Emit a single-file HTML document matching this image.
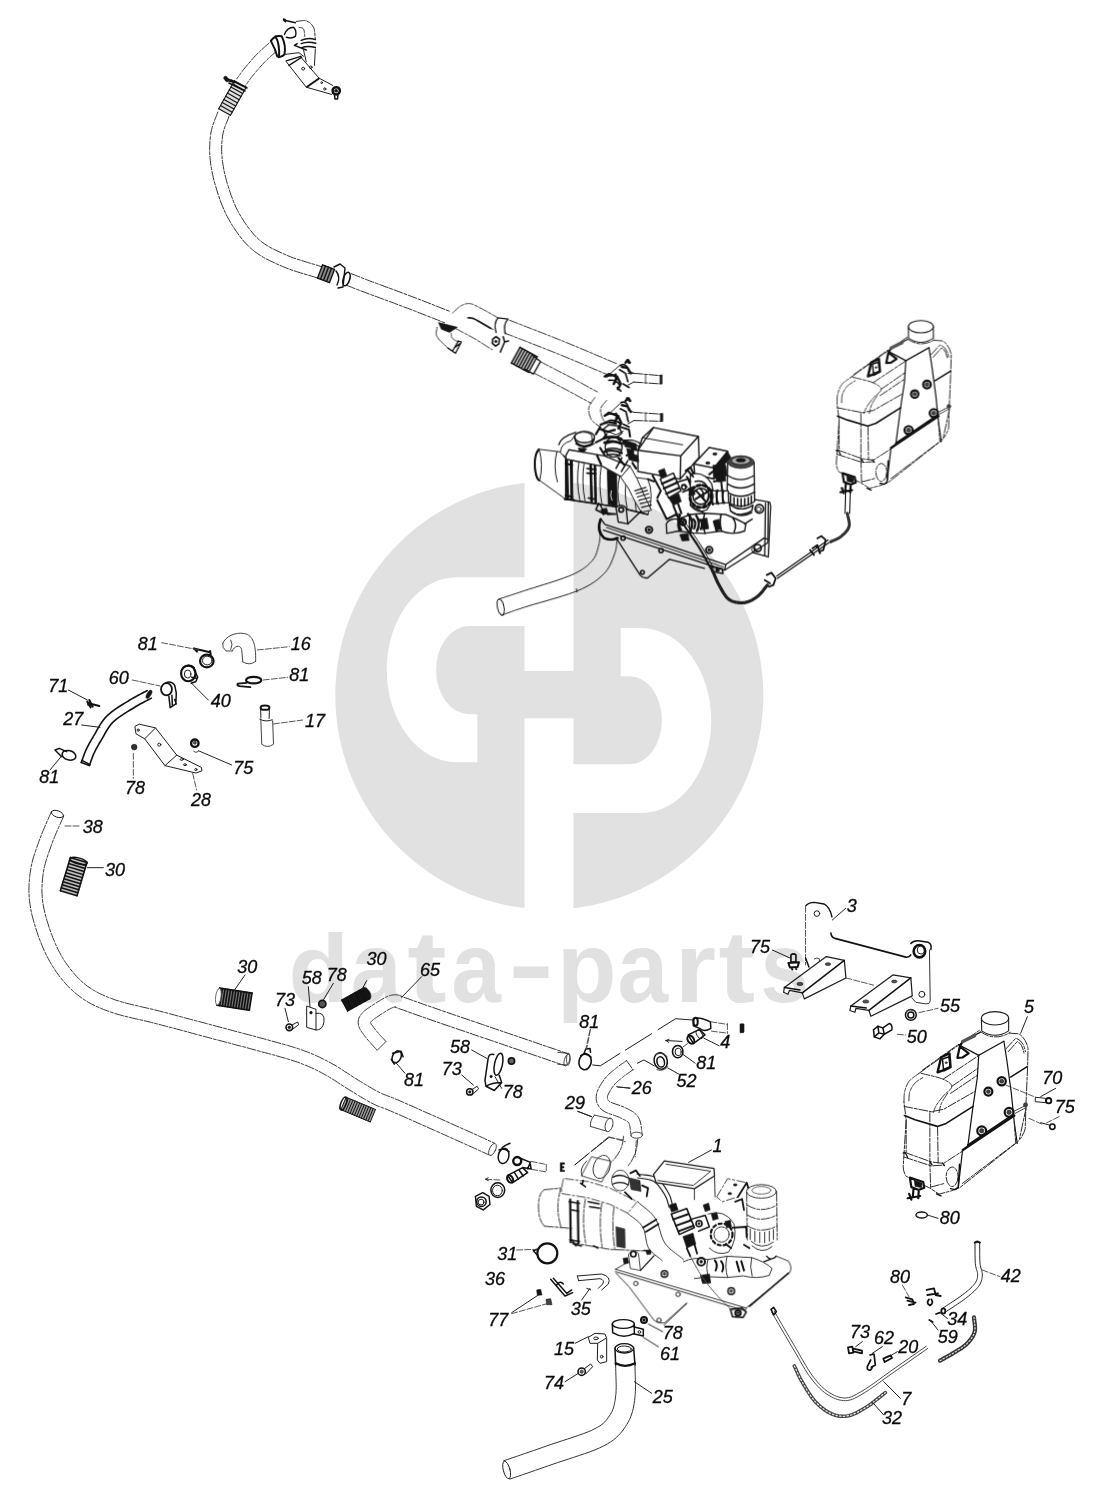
<!DOCTYPE html>
<html><head><meta charset="utf-8"><title>diagram</title>
<style>
html,body{margin:0;padding:0;background:#fff}
body{width:1101px;height:1510px;overflow:hidden}
svg{display:block}
svg *{vector-effect:non-scaling-stroke}
.l{fill:none;stroke:#1c1c1c;stroke-width:1;stroke-linecap:round;stroke-linejoin:round}
.f{fill:none;stroke:#444;stroke-width:1;stroke-linecap:round;stroke-linejoin:round}
.ff{fill:none;stroke:#3a3a3a;stroke-width:1;stroke-linecap:round;stroke-linejoin:round;stroke-dasharray:9 1.6 3 1.6}
.k{fill:none;stroke:#111;stroke-width:1.5;stroke-linecap:round;stroke-linejoin:round}
.w{fill:#fff;stroke:#1c1c1c;stroke-width:1;stroke-linejoin:round}
.wf{fill:#fff;stroke:#5a5a5a;stroke-width:.9;stroke-linejoin:round}
.b{fill:#151515;stroke:#151515;stroke-width:.6;stroke-linejoin:round}
.ld{fill:none;stroke:#222;stroke-width:1;stroke-linecap:round}
.lf{fill:none;stroke:#444;stroke-width:.9;stroke-linecap:round;stroke-dasharray:6 2}
.n{font-family:"Liberation Sans",sans-serif;font-style:italic;font-size:18px;fill:#0a0a0a;stroke:#0a0a0a;stroke-width:.3px}
.wm{font-family:"Liberation Sans",sans-serif;font-weight:bold;font-size:96px;fill:#e1e1e1}
</style></head><body>
<svg width="1101" height="1510" viewBox="0 0 1101 1510">
<rect width="1101" height="1510" fill="#fff"/>
<g id="wm">
<circle cx="549.3" cy="695.5" r="214" fill="#e1e1e1"/>
<rect x="524.5" y="470" width="49" height="201" fill="#fff"/>
<rect x="524.5" y="718.3" width="49" height="205" fill="#fff"/>
<path d="M525 577.3H456.7A70 92.5 0 0 0 456.7 762.3H477.3V714.2H468.8A32.7 44 0 0 1 468.8 626.1H525Z" fill="#fff"/>
<path d="M573 813.1H641.3A70 92.5 0 0 0 641.3 628.1H620.7V676.2H629.2A32.7 44 0 0 1 629.2 764.3H573Z" fill="#fff"/>
<text class="wm" transform="translate(288.6,1001.5) scale(1.033,1.01)">d</text><text class="wm" transform="translate(351.0,1001.5) scale(0.945,1.05)">a</text><text class="wm" transform="translate(407.2,1001.5) scale(1.230,1.06)">t</text><text class="wm" transform="translate(451.4,1001.5) scale(0.924,1.05)">a</text><text class="wm" transform="translate(508.3,996.5) scale(1.429,1.0)">-</text><text class="wm" transform="translate(556.9,1001.5) scale(1.014,1.05)">p</text><text class="wm" transform="translate(617.5,1001.5) scale(0.947,1.05)">a</text><text class="wm" transform="translate(674.7,1001.5) scale(1.103,1.05)">r</text><text class="wm" transform="translate(718.4,1001.5) scale(1.143,1.06)">t</text><text class="wm" transform="translate(760.4,1001.5) scale(0.904,1.05)">s</text>
</g>
<g id="art" style="mix-blend-mode:multiply">
<g id="parts">

<!-- view L: offset (100,620) scale 4.5875 -->
<g transform="translate(100,620) scale(.21798)">
<!-- elbow 16 -->
<path class="f" d="M563 108C575 75 620 55 662 62C702 70 716 110 714 190M607 142C615 120 642 110 650 135L655 192M655 192Q685 212 714 190M563 108Q560 128 578 142L607 142M600 92Q612 112 600 135"/>
<!-- clamp 81 top -->
<ellipse class="k" cx="490" cy="188" rx="31" ry="29" style="stroke-width:2.2"/><ellipse class="l" cx="492" cy="186" rx="22" ry="20"/>
<path class="k" style="stroke-width:2" d="M430 131L505 148M432 131L445 145M505 142L508 160"/>
<!-- clamp 40 -->
<ellipse class="k" cx="405" cy="245" rx="33" ry="36" style="stroke-width:2.2"/><ellipse class="l" cx="402" cy="248" rx="15" ry="18"/>
<path class="k" d="M385 215Q410 200 432 218M432 230L448 262L440 282L418 290M420 262L445 268"/>
<!-- flat ring 81 right -->
<ellipse class="k" cx="705" cy="276" rx="35" ry="15" style="stroke-width:2.2"/><path class="k" d="M672 288L632 292Q625 300 640 303L690 308" style="stroke-width:1.8"/>
<!-- 60 clamp -->
<ellipse class="k" cx="305" cy="318" rx="25" ry="28" style="stroke-width:1.8"/>
<path class="k" d="M300 290Q325 275 343 300L350 335L348 385L322 402L316 350M330 345L332 395M343 365L350 385" />
<!-- bracket 28 -->
<path class="w" d="M160 488L180 478L255 495L352 620L465 676L468 692L440 702L298 668L205 545L165 522Z"/>
<path class="l" d="M255 495L205 545M352 620L298 668"/>
<circle class="l" cx="175" cy="505" r="5"/><circle class="l" cx="272" cy="572" r="7"/><ellipse class="l" cx="375" cy="640" rx="7" ry="4"/><ellipse class="l" cx="390" cy="664" rx="7" ry="4"/><circle class="l" cx="440" cy="686" r="5"/>
<!-- 78 nut -->
<circle class="b" cx="157" cy="583" r="13" style="fill:#333"/>
<!-- 75 nut -->
<circle class="k" cx="435" cy="565" r="17" style="stroke-width:2.4"/><circle class="b" cx="435" cy="563" r="7" style="fill:#555"/><path class="f" d="M430 603Q440 612 450 604"/>
<!-- 17 tube -->
<ellipse class="k" cx="757" cy="402" rx="20" ry="10" style="stroke-width:2"/>
<path class="l" d="M737 405L738 450M777 405L776 452M733 455Q760 470 790 458"/>
<path class="f" d="M738 460L742 570Q768 590 796 570L792 462"/>
</g>

<path class="ff" d="M51.5 811.4L50.4 814.1L49.2 816.7L48.0 819.3L46.8 822.0L45.7 824.7L44.5 827.4L43.3 830.2L42.1 833.0L41.0 835.9L39.9 838.8L38.9 841.6L37.8 844.6L36.7 847.5L35.7 850.6L34.6 853.7L33.6 856.8L32.7 860.0L31.9 863.3L31.2 866.6L30.6 870.0L30.1 873.3L29.7 876.6L29.4 879.9L29.1 883.3L29.0 886.7L28.9 890.1L29.0 893.6L29.2 897.2L29.5 900.8L30.0 904.4L30.6 908.2L31.3 912.0L32.2 915.9L33.3 919.9L34.4 923.8L35.6 927.7L36.8 931.5L38.1 935.3L39.4 938.9L40.8 942.4L42.1 945.7L43.5 949.0L45.0 952.2L46.5 955.3L48.1 958.4L49.7 961.4L51.4 964.3L53.2 967.2L55.0 970.0L56.9 972.8L58.9 975.5L60.9 978.1L63.0 980.7L65.2 983.2L67.4 985.6L69.7 988.0L72.2 990.3L74.7 992.6L77.3 994.7L80.0 996.7L82.7 998.7L85.4 1000.5L88.2 1002.2L91.1 1003.8L94.1 1005.3L97.1 1006.7L100.3 1008.1L103.6 1009.5L107.2 1010.8L110.9 1012.1L114.9 1013.5L119.1 1014.7L123.5 1015.9L128.0 1017.0L132.6 1018.1L137.3 1019.2L142.0 1020.2L146.8 1021.3L151.6 1022.5L156.4 1023.7L161.3 1025.0L166.3 1026.3L171.4 1027.6L176.6 1029.0L181.8 1030.4L187.1 1031.8L192.4 1033.3L197.6 1034.7L202.9 1036.1L208.1 1037.5L213.4 1038.9L218.7 1040.3L224.1 1041.7L229.5 1043.1L234.9 1044.6L240.2 1046.0L245.4 1047.3L250.4 1048.7L255.3 1050.0L259.9 1051.3L264.3 1052.5L268.5 1053.6L272.6 1054.7L276.5 1055.8L280.3 1056.9L284.0 1057.9L287.5 1058.9L290.9 1060.0L294.1 1061.0L297.3 1062.1L300.4 1063.2L303.3 1064.4L306.0 1065.4L308.7 1066.6L311.2 1067.7L313.7 1068.8L316.2 1070.0L318.7 1071.3L321.3 1072.6L323.9 1074.0L326.6 1075.5L329.3 1077.1L332.0 1078.8L334.8 1080.5L337.6 1082.4L340.4 1084.2L343.2 1086.0L346.0 1087.8L348.7 1089.5L351.3 1091.1L353.8 1092.6L356.2 1094.1L358.5 1095.5L360.8 1096.9L363.1 1098.2L365.3 1099.5L367.5 1100.8L369.7 1102.0L371.9 1103.2L374.1 1104.3L376.1 1105.3L377.8 1106.0L379.2 1106.6L380.6 1107.1L381.9 1107.6L383.3 1108.1L385.0 1108.7L387.3 1109.6L390.2 1110.8L394.0 1112.5L398.9 1114.6L404.9 1117.2L411.6 1120.2L419.0 1123.5L426.6 1126.9L434.3 1130.3L441.7 1133.6L448.7 1136.7L455.0 1139.6L460.3 1141.9L464.7 1143.9L468.5 1145.6L471.7 1147.0L474.5 1148.3L477.0 1149.4L479.3 1150.5L481.6 1151.5L483.9 1152.6L486.3 1153.7L489.0 1154.9"/><path class="ff" d="M63.5 816.6L62.3 819.3L61.1 822.0L59.9 824.7L58.7 827.3L57.5 829.9L56.4 832.6L55.3 835.2L54.2 837.8L53.1 840.5L52.1 843.2L51.1 846.1L50.0 849.0L49.0 851.9L48.0 854.8L47.0 857.7L46.1 860.5L45.3 863.4L44.5 866.3L43.9 869.1L43.4 872.0L43.0 875.0L42.6 878.0L42.3 881.0L42.1 884.0L42.0 887.0L41.9 890.1L42.0 893.1L42.2 896.2L42.4 899.4L42.8 902.6L43.4 905.9L44.1 909.3L44.9 912.9L45.8 916.5L46.8 920.1L48.0 923.8L49.1 927.4L50.3 930.9L51.6 934.4L52.8 937.6L54.1 940.7L55.4 943.8L56.7 946.7L58.1 949.6L59.5 952.3L61.0 955.0L62.5 957.7L64.1 960.3L65.8 962.8L67.5 965.2L69.3 967.6L71.1 970.0L73.0 972.3L74.9 974.5L76.9 976.7L78.9 978.8L81.0 980.8L83.1 982.7L85.3 984.5L87.6 986.3L90.0 987.9L92.4 989.5L94.8 990.9L97.2 992.3L99.8 993.6L102.5 994.9L105.4 996.1L108.4 997.4L111.7 998.6L115.1 999.9L118.8 1001.0L122.6 1002.2L126.7 1003.3L131.1 1004.4L135.6 1005.4L140.2 1006.5L145.0 1007.6L149.8 1008.7L154.7 1009.9L159.6 1011.1L164.6 1012.4L169.6 1013.7L174.7 1015.1L179.9 1016.5L185.2 1017.9L190.4 1019.3L195.7 1020.7L201.0 1022.1L206.3 1023.5L211.5 1024.9L216.7 1026.3L222.0 1027.7L227.4 1029.1L232.8 1030.6L238.2 1032.0L243.5 1033.4L248.8 1034.8L253.8 1036.1L258.7 1037.5L263.3 1038.7L267.7 1039.9L271.9 1041.1L276.0 1042.2L280.0 1043.3L283.8 1044.3L287.6 1045.4L291.2 1046.5L294.8 1047.6L298.3 1048.7L301.7 1049.9L304.9 1051.1L308.0 1052.2L311.0 1053.4L313.8 1054.6L316.6 1055.8L319.3 1057.1L321.9 1058.4L324.6 1059.7L327.3 1061.1L330.1 1062.6L333.0 1064.2L336.0 1065.9L338.9 1067.7L341.8 1069.6L344.7 1071.5L347.6 1073.3L350.3 1075.1L353.0 1076.9L355.6 1078.5L358.1 1080.1L360.5 1081.5L362.9 1083.0L365.2 1084.4L367.5 1085.7L369.7 1087.0L371.8 1088.3L373.9 1089.5L375.9 1090.6L377.9 1091.7L379.9 1092.7L381.6 1093.5L382.9 1094.1L384.0 1094.5L385.0 1094.9L386.2 1095.3L387.7 1095.9L389.7 1096.6L392.2 1097.6L395.3 1098.9L399.2 1100.5L404.1 1102.7L410.1 1105.3L416.9 1108.3L424.2 1111.6L431.9 1115.0L439.6 1118.4L447.0 1121.7L454.0 1124.9L460.3 1127.7L465.7 1130.1L470.1 1132.0L473.8 1133.7L477.1 1135.2L479.9 1136.5L482.4 1137.6L484.7 1138.7L487.0 1139.7L489.3 1140.8L491.7 1141.9L494.4 1143.1"/>
<ellipse class="l" cx="57.5" cy="814" rx="6.3" ry="3.2" transform="rotate(20 57.5 814)"/>
<ellipse class="f" cx="492.5" cy="1149.5" rx="3" ry="6.5" transform="rotate(25 492.5 1149.5)"/>
<g transform="translate(0,600) scale(0.33333)"><path class="k" style="stroke-width:1.6" d="M441.8 271.6L436.6 274.4L431.6 277.0L426.5 279.7L421.4 282.3L416.2 285.0L410.9 287.8L405.5 290.8L399.9 293.9L394.1 297.3L388.2 300.9L382.0 304.7L375.5 308.7L368.7 312.9L361.6 317.3L354.4 321.9L347.2 326.7L340.2 331.7L333.3 336.8L326.9 342.2L320.8 347.8L315.3 353.6L310.3 359.8L305.7 366.0L301.6 372.3L297.7 378.5L294.2 384.6L290.8 390.5L287.7 396.2L284.8 401.4L281.8 406.3L279.0 411.1L276.2 415.8L273.5 420.3L271.0 424.7L268.7 428.9L266.4 433.1L264.2 437.3L262.2 441.3L260.2 445.4L258.2 449.5L256.3 453.7L254.6 457.8L253.0 461.8L251.6 465.7L250.2 469.5L248.9 473.2L247.6 476.8L246.4 480.4L245.1 483.9L243.8 487.5"/><path class="k" style="stroke-width:1.6" d="M454.2 294.4L448.9 297.3L443.6 300.1L438.5 302.7L433.4 305.4L428.3 308.0L423.2 310.7L418.1 313.5L412.9 316.4L407.5 319.6L401.8 323.1L395.7 326.9L389.1 330.9L382.3 335.0L375.5 339.3L368.6 343.7L361.9 348.2L355.5 352.7L349.5 357.2L344.0 361.8L339.2 366.2L334.9 370.8L330.9 375.7L327.1 380.9L323.5 386.3L320.0 391.9L316.7 397.5L313.5 403.2L310.4 408.9L307.3 414.4L304.2 419.7L301.2 424.5L298.6 429.0L296.0 433.3L293.7 437.4L291.5 441.4L289.4 445.3L287.4 449.2L285.4 453.0L283.6 456.7L281.8 460.5L280.1 464.1L278.7 467.6L277.3 471.1L276.0 474.6L274.7 478.2L273.4 481.7L272.2 485.3L270.9 489.0L269.6 492.8L268.2 496.5"/><path class="k" style="stroke-width:1.6" d="M243.8 487.5L268.2 496.5"/><ellipse class="b" cx="447" cy="283" rx="6" ry="14" transform="rotate(30 447 283)"/><path class="k" d="M246 481L270 494"/><ellipse class="k" cx="207" cy="466" rx="21" ry="14" transform="rotate(15 207 466)" style="stroke-width:1.6"/><path class="k" d="M165 450L178 445L200 455M165 450L185 470"/><path class="k" style="stroke-width:2" d="M262 305L272 322M268 300L278 320M275 312L298 318"/><circle class="b" cx="268" cy="312" r="6"/><path d="M211.1 772.5L181.1 872.5L230.9 887.5L260.9 787.5Z" fill="#bbb" stroke="none"/><path class="k" style="stroke-width:1.5" d="M211.1 772.5L260.9 787.5"/><path class="k" style="stroke-width:1.5" d="M208.4 781.6L258.2 796.6"/><path class="k" style="stroke-width:1.5" d="M205.6 790.7L255.4 805.7"/><path class="k" style="stroke-width:1.5" d="M202.9 799.8L252.7 814.7"/><path class="k" style="stroke-width:1.5" d="M200.2 808.9L250.0 823.8"/><path class="k" style="stroke-width:1.5" d="M197.5 818.0L247.3 832.9"/><path class="k" style="stroke-width:1.5" d="M194.7 827.1L244.5 842.0"/><path class="k" style="stroke-width:1.5" d="M192.0 836.2L241.8 851.1"/><path class="k" style="stroke-width:1.5" d="M189.3 845.3L239.1 860.2"/><path class="k" style="stroke-width:1.5" d="M186.6 854.3L236.4 869.3"/><path class="k" style="stroke-width:1.5" d="M183.8 863.4L233.6 878.4"/><path class="k" style="stroke-width:1.5" d="M181.1 872.5L230.9 887.5"/><path class="k" style="stroke-width:1.5" d="M211.1 772.5L181.1 872.5M260.9 787.5L230.9 887.5"/><ellipse class="k" cx="236" cy="783" rx="26" ry="9" transform="rotate(15 236 783)"/><path d="M651.0 1215.7L748.0 1230.7L756.0 1179.3L659.0 1164.3Z" fill="#777" stroke="none"/><path class="k" style="stroke-width:1.6" d="M651.0 1215.7L659.0 1164.3"/><path class="k" style="stroke-width:1.6" d="M659.1 1216.9L667.1 1165.6"/><path class="k" style="stroke-width:1.6" d="M667.2 1218.2L675.1 1166.8"/><path class="k" style="stroke-width:1.6" d="M675.3 1219.4L683.2 1168.1"/><path class="k" style="stroke-width:1.6" d="M683.4 1220.7L691.3 1169.3"/><path class="k" style="stroke-width:1.6" d="M691.4 1221.9L699.4 1170.6"/><path class="k" style="stroke-width:1.6" d="M699.5 1223.2L707.5 1171.8"/><path class="k" style="stroke-width:1.6" d="M707.6 1224.4L715.6 1173.1"/><path class="k" style="stroke-width:1.6" d="M715.7 1225.7L723.6 1174.3"/><path class="k" style="stroke-width:1.6" d="M723.8 1226.9L731.7 1175.6"/><path class="k" style="stroke-width:1.6" d="M731.9 1228.2L739.8 1176.8"/><path class="k" style="stroke-width:1.6" d="M739.9 1229.4L747.9 1178.1"/><path class="k" style="stroke-width:1.6" d="M748.0 1230.7L756.0 1179.3"/><path class="k" style="stroke-width:1.6" d="M651.0 1215.7L748.0 1230.7M659.0 1164.3L756.0 1179.3"/><ellipse class="wf" cx="655" cy="1190" rx="8" ry="25" transform="rotate(8 655 1190)"/><circle class="k" cx="868" cy="1282" r="10" style="stroke-width:1.6"/><circle class="b" cx="868" cy="1282" r="4"/><path class="l" d="M876 1275L893 1266L896 1274L878 1288"/><path class="w" d="M920 1218L948 1228L948 1290L920 1282Z"/><path class="l" d="M948 1240Q975 1235 972 1265Q968 1292 948 1290"/><circle class="b" cx="933" cy="1238" r="4"/><circle class="b" cx="967" cy="1212" r="10" style="fill:#555"/><circle class="k" cx="967" cy="1212" r="11"/></g>
<path class="ff" style="stroke:#333" d="M385.6 1041.2L384.6 1040.0L383.5 1038.9L382.4 1037.7L381.4 1036.6L380.3 1035.4L379.3 1034.3L378.4 1033.2L377.5 1032.2L376.6 1031.2L375.8 1030.2L375.0 1029.1L374.2 1028.1L373.4 1027.1L372.7 1026.1L372.0 1025.2L371.4 1024.4L371.0 1023.7L370.7 1023.1L370.5 1022.7L370.5 1022.5L370.4 1022.4L370.4 1022.3L370.4 1022.4L370.4 1022.5L370.4 1022.6L370.4 1022.6L370.5 1022.4L370.7 1022.1L371.1 1021.7L371.5 1021.2L372.0 1020.7L372.6 1020.2L373.4 1019.5L374.4 1018.8L375.5 1018.0L376.6 1017.3L377.8 1016.5L379.0 1015.7L380.2 1014.9L381.4 1014.1L382.5 1013.4L383.6 1012.7L384.7 1012.0L385.8 1011.3L386.9 1010.6L388.0 1010.0L389.0 1009.4L389.9 1008.9L390.8 1008.5L391.5 1008.1L392.2 1007.8L392.8 1007.6L393.3 1007.4L393.7 1007.3L394.0 1007.2L394.3 1007.2L394.5 1007.1L394.8 1007.1L395.2 1007.1L395.6 1007.1L396.1 1007.2L396.0 1007.2L395.4 1007.0L394.8 1006.8L394.8 1006.8L395.4 1007.1L396.2 1007.5L397.4 1008.0L398.9 1008.6L400.9 1009.3L403.3 1010.1L406.1 1011.1L409.1 1012.2L412.5 1013.4L416.1 1014.7L420.1 1016.1L424.2 1017.5L428.6 1019.1L433.2 1020.7L438.0 1022.3L443.0 1024.1L448.4 1025.9L454.1 1027.8L460.0 1029.9L466.1 1031.9L472.4 1034.1L478.7 1036.3L485.2 1038.4L491.6 1040.6L498.0 1042.8L504.5 1045.0L511.0 1047.3L517.7 1049.5L524.4 1051.8L531.3 1054.2L538.1 1056.5L545.0 1058.8L551.8 1061.2L558.6 1063.5L565.4 1065.8"/><path class="ff" style="stroke:#333" d="M376.4 1049.4L375.4 1048.3L374.4 1047.2L373.4 1046.0L372.3 1044.9L371.2 1043.7L370.2 1042.5L369.1 1041.3L368.1 1040.2L367.1 1039.0L366.2 1037.8L365.3 1036.7L364.5 1035.7L363.6 1034.6L362.8 1033.4L361.9 1032.3L361.1 1031.1L360.4 1029.8L359.6 1028.5L359.0 1027.0L358.5 1025.5L358.3 1024.0L358.1 1022.5L358.2 1021.0L358.5 1019.5L358.9 1018.1L359.5 1016.9L360.2 1015.7L360.9 1014.7L361.7 1013.8L362.5 1012.8L363.5 1011.8L364.7 1010.7L365.9 1009.8L367.2 1008.8L368.5 1007.9L369.8 1007.0L371.1 1006.2L372.3 1005.4L373.5 1004.6L374.6 1003.9L375.8 1003.1L376.9 1002.4L378.1 1001.6L379.4 1000.8L380.6 1000.1L381.8 999.4L383.0 998.7L384.2 998.0L385.3 997.4L386.5 996.9L387.5 996.4L388.5 996.1L389.5 995.7L390.5 995.4L391.5 995.2L392.5 995.0L393.5 994.9L394.5 994.8L395.5 994.8L396.4 994.9L397.1 994.9L397.8 995.0L398.9 995.2L400.0 995.6L400.4 995.9L400.7 996.0L401.1 996.2L402.0 996.6L403.2 997.0L405.1 997.7L407.4 998.5L410.2 999.5L413.2 1000.6L416.6 1001.8L420.2 1003.1L424.1 1004.5L428.3 1005.9L432.7 1007.4L437.3 1009.0L442.0 1010.7L447.0 1012.4L452.4 1014.3L458.1 1016.2L464.0 1018.2L470.1 1020.3L476.3 1022.4L482.7 1024.6L489.1 1026.8L495.6 1029.0L502.0 1031.2L508.4 1033.4L515.0 1035.6L521.7 1037.9L528.4 1040.2L535.2 1042.5L542.1 1044.9L548.9 1047.2L555.8 1049.5L562.6 1051.9L569.4 1054.2"/>
<path class="f" d="M377 1050.5L386 1041.5"/>
<ellipse class="f" cx="567" cy="1060" rx="2.6" ry="6.2" transform="rotate(18 567 1060)"/>
<path d="M347.7 1011.1L369.8 998.8L363.8 987.8L341.7 1000.1Z" fill="#161616" stroke="none"/><path class="k" style="stroke-width:1.2" d="M347.7 1011.1L341.7 1000.1"/><path class="k" style="stroke-width:1.2" d="M352.2 1008.6L346.1 997.7"/><path class="k" style="stroke-width:1.2" d="M356.6 1006.1L350.5 995.2"/><path class="k" style="stroke-width:1.2" d="M361.0 1003.7L354.9 992.8"/><path class="k" style="stroke-width:1.2" d="M365.4 1001.2L359.3 990.3"/><path class="k" style="stroke-width:1.2" d="M369.8 998.8L363.8 987.8"/><path class="k" style="stroke-width:1.2" d="M347.7 1011.1L369.8 998.8M341.7 1000.1L363.8 987.8"/>
<ellipse class="b" cx="366.8" cy="993.3" rx="3.2" ry="6.3" transform="rotate(-29 366.8 993.3)"/>
<path d="M340.9 1109.7L370.3 1121.9L375.5 1109.5L346.1 1097.3Z" fill="#999" stroke="none"/><path class="k" style="stroke-width:1" d="M340.9 1109.7L346.1 1097.3"/><path class="k" style="stroke-width:1" d="M343.2 1110.7L348.3 1098.2"/><path class="k" style="stroke-width:1" d="M345.4 1111.6L350.6 1099.1"/><path class="k" style="stroke-width:1" d="M347.7 1112.5L352.9 1100.1"/><path class="k" style="stroke-width:1" d="M350.0 1113.5L355.1 1101.0"/><path class="k" style="stroke-width:1" d="M352.2 1114.4L357.4 1102.0"/><path class="k" style="stroke-width:1" d="M354.5 1115.4L359.7 1102.9"/><path class="k" style="stroke-width:1" d="M356.7 1116.3L361.9 1103.8"/><path class="k" style="stroke-width:1" d="M359.0 1117.2L364.2 1104.8"/><path class="k" style="stroke-width:1" d="M361.3 1118.2L366.4 1105.7"/><path class="k" style="stroke-width:1" d="M363.5 1119.1L368.7 1106.7"/><path class="k" style="stroke-width:1" d="M365.8 1120.1L371.0 1107.6"/><path class="k" style="stroke-width:1" d="M368.1 1121.0L373.2 1108.5"/><path class="k" style="stroke-width:1" d="M370.3 1121.9L375.5 1109.5"/><path class="k" style="stroke-width:1" d="M340.9 1109.7L370.3 1121.9M346.1 1097.3L375.5 1109.5"/>
<ellipse class="k" cx="343.5" cy="1103.5" rx="2.6" ry="6.8" transform="rotate(22 343.5 1103.5)"/>
<path class="ff" style="stroke:#333" d="M626.5 1060.6L625.5 1061.4L624.4 1062.1L623.4 1062.9L622.3 1063.6L621.1 1064.4L620.0 1065.2L618.9 1066.0L617.7 1066.9L616.6 1067.8L615.5 1068.7L614.4 1069.5L613.4 1070.4L612.3 1071.3L611.2 1072.2L610.1 1073.2L608.9 1074.2L607.8 1075.3L606.7 1076.5L605.6 1077.7L604.5 1079.0L603.6 1080.3L602.6 1081.7L601.6 1083.2L600.6 1084.8L599.7 1086.4L598.8 1088.0L598.0 1089.7L597.3 1091.5L596.7 1093.2L596.4 1095.0L596.2 1096.7L596.2 1098.3L596.3 1099.9L596.6 1101.5L597.1 1103.1L597.8 1104.7L598.7 1106.2L599.7 1107.6L601.0 1108.9L602.4 1110.2L604.2 1111.4L606.1 1112.4L608.1 1113.2L610.2 1114.0L612.3 1114.7L614.3 1115.4L616.2 1116.1L618.0 1116.7L619.5 1117.3L620.7 1117.9L622.0 1118.6L623.3 1119.3L624.5 1119.8L625.5 1120.4L626.4 1120.9L627.1 1121.3L627.7 1121.8L628.2 1122.2L628.5 1122.7L628.9 1123.1L629.2 1123.7L629.4 1124.5L629.7 1125.5L629.9 1126.7L630.1 1128.0L630.3 1129.5L630.5 1131.1L630.7 1132.8L630.9 1134.5L631.2 1136.2"/><path class="ff" style="stroke:#333" d="M633.1 1069.8L631.9 1070.5L630.8 1071.3L629.7 1072.1L628.6 1072.8L627.6 1073.6L626.5 1074.3L625.5 1075.1L624.5 1075.8L623.5 1076.6L622.5 1077.3L621.5 1078.2L620.4 1079.1L619.4 1079.9L618.4 1080.7L617.5 1081.5L616.6 1082.4L615.7 1083.2L614.9 1084.0L614.2 1084.9L613.5 1085.8L612.7 1086.9L611.8 1088.0L611.0 1089.3L610.2 1090.6L609.5 1091.9L608.8 1093.1L608.3 1094.3L607.8 1095.3L607.6 1096.1L607.4 1096.8L607.4 1097.4L607.4 1098.0L607.4 1098.5L607.5 1098.9L607.6 1099.2L607.7 1099.6L607.9 1099.9L608.2 1100.3L608.7 1100.8L609.2 1101.2L609.9 1101.7L610.9 1102.2L612.3 1102.9L614.0 1103.5L615.9 1104.2L617.9 1104.8L619.9 1105.5L621.9 1106.3L623.9 1107.0L625.7 1107.9L627.1 1108.6L628.4 1109.2L629.7 1109.9L631.0 1110.6L632.3 1111.4L633.6 1112.2L634.9 1113.3L636.2 1114.5L637.4 1115.8L638.5 1117.5L639.4 1119.3L640.1 1121.1L640.6 1123.0L641.0 1124.8L641.2 1126.5L641.4 1128.2L641.6 1129.9L641.8 1131.4L642.0 1132.8L642.2 1134.2"/><path class="ff" style="stroke:#333" d="M626.5 1060.6L633.1 1069.8"/>
<ellipse class="f" cx="636.7" cy="1135.2" rx="5.8" ry="3" />
<g transform="translate(330,960) scale(0.24523)"><ellipse class="k" cx="272" cy="395" rx="17" ry="26" transform="rotate(25 272 395)" style="stroke-width:1.5"/><path class="k" d="M255 380L290 372L298 395M250 405L262 425"/><ellipse class="k" cx="687" cy="425" rx="16" ry="46" transform="rotate(12 687 425)"/><path class="k" d="M668 385Q650 380 645 400L632 490L636 515L670 532L700 500L690 470M636 515Q660 500 700 500"/><circle class="b" cx="657" cy="475" r="5"/><circle class="b" cx="740" cy="412" r="12" style="fill:#666"/><circle class="k" cx="740" cy="412" r="13"/><circle class="k" cx="570" cy="538" r="13"/><circle class="b" cx="570" cy="538" r="5"/><path class="l" d="M580 528L600 515L606 525L585 545"/></g>
<g transform="translate(560,1000) scale(0.21798)"><ellipse class="k" cx="115" cy="283" rx="28" ry="37" transform="rotate(10 115 283)" style="stroke-width:1.6"/><path class="k" d="M95 255Q120 240 142 262M110 245L118 225L138 222L140 240"/><path class="f" d="M-10 240L40 245M-10 295L35 298"/><ellipse class="f" cx="38" cy="272" rx="8" ry="26"/><path class="l" d="M150 298L185 302L275 245M300 230L420 155M450 136L530 86L612 92"/><path class="k" d="M612 85Q640 75 690 100L692 130Q660 150 640 130L612 118Z" style="stroke-width:1.5"/><ellipse class="k" cx="622" cy="100" rx="10" ry="18" style="stroke-width:2"/><path class="k" d="M588 160L640 135L665 160L612 200Z"/><ellipse class="k" cx="600" cy="182" rx="14" ry="20" transform="rotate(-30 600 182)" style="stroke-width:2"/><ellipse class="l" cx="640" cy="158" rx="12" ry="22" transform="rotate(-30 640 158)"/><path class="lf" d="M692 100L768 112M695 143L768 152M768 108L768 152"/><rect class="b" x="826" y="110" width="16" height="40"/><ellipse class="k" cx="540" cy="237" rx="24" ry="28" style="stroke-width:1.6"/><ellipse class="l" cx="542" cy="238" rx="14" ry="17"/><path class="l" d="M486 186L560 190M486 186L500 180M486 186L498 194"/><path class="f" d="M565 215L585 200"/><ellipse class="k" cx="462" cy="280" rx="30" ry="38" transform="rotate(-15 462 280)" style="stroke-width:1.5"/><ellipse class="k" cx="462" cy="284" rx="17" ry="24" transform="rotate(-15 462 284)"/><path class="f" d="M440 250Q470 235 492 260M445 320Q475 330 495 305"/><path class="l" d="M355 290L385 275L432 302"/><path class="f" d="M158 528L232 545M140 580Q135 555 158 528M140 580L215 602"/><ellipse class="f" cx="225" cy="573" rx="17" ry="32" transform="rotate(15 225 573)"/><path class="lf" d="M350 645L345 720M220 630L70 755M225 628L300 650"/><path class="lf" d="M140 135L122 225"/><path class="f" d="M320 403L265 400"/><path class="ld" d="M80 510L145 535"/></g>
<g transform="translate(460,1120) scale(0.18165)"><ellipse class="k" cx="240" cy="198" rx="29" ry="42" transform="rotate(12 240 198)" style="stroke-width:1.5"/><path class="k" d="M215 165Q245 150 270 175M232 152L250 140L275 128"/><ellipse class="k" cx="315" cy="226" rx="22" ry="22" style="stroke-width:2.4"/><path class="k" d="M325 208L385 232L392 270L345 262M388 232L372 270"/><path class="lf" d="M392 228L475 245M395 272L475 286M475 245L475 286"/><path class="k" d="M262 305L345 262L372 290L290 345Z" style="stroke-width:1.6"/><ellipse class="k" cx="276" cy="325" rx="15" ry="22" transform="rotate(-30 276 325)" style="stroke-width:2"/><path class="k" d="M300 290L322 325M325 275L348 308"/><path class="lf" d="M142 326L228 331"/><path class="l" d="M142 326L155 318M142 326L156 334"/><ellipse class="k" cx="208" cy="386" rx="38" ry="40" style="stroke-width:1.5"/><ellipse class="l" cx="206" cy="388" rx="27" ry="29"/><path class="k" d="M85 420L125 400L160 420L165 465L128 495L90 475Z" style="stroke-width:1.4"/><circle class="k" cx="118" cy="450" r="26"/><circle class="l" cx="116" cy="452" r="16"/><path class="b" d="M552 236L575 236L575 244L562 244L562 256L572 256L572 264L562 264L562 276L575 276L575 284L552 284Z"/><path class="l" d="M632 247L705 188M725 172L820 96"/><path class="lf" d="M820 96L900 110"/></g>
<g transform="translate(300,960) scale(0.33333)"><circle class="k" cx="742" cy="880" r="30" style="stroke-width:2.2"/><path class="k" d="M712 868L700 872L712 885"/><path class="k" d="M752 958L795 1008L818 998M760 955L800 1000L815 990M770 975Q780 960 790 972"/><path class="f" style="stroke:#222" d="M832 948L905 942Q935 950 925 972L905 990M836 962L900 956Q915 960 908 972L895 985M832 948L836 962"/><path class="l" d="M860 985L872 990"/><path class="b" d="M710 990L722 988L726 1005L712 1006Z"/><path class="b" d="M738 1018L752 1016L756 1034L740 1034Z" style="fill:#444"/><path class="w" d="M865 1132L885 1120L915 1122L920 1135L920 1205L900 1210L892 1200L893 1150L870 1150Z"/><path class="l" d="M893 1150L918 1135"/><ellipse class="l" cx="888" cy="1135" rx="7" ry="4"/><circle class="l" cx="905" cy="1190" r="4"/><circle class="k" cx="845" cy="1235" r="11" style="stroke-width:1.6"/><circle class="b" cx="845" cy="1235" r="5" style="fill:#666"/><path class="l" d="M853 1226L872 1212L878 1220L857 1242"/><ellipse class="k" cx="970" cy="1092" rx="33" ry="13" style="stroke-width:1.4"/><path class="k" d="M937 1092L938 1118Q970 1138 1003 1120L1003 1095M1000 1100L1030 1108L1030 1128L1003 1122"/><circle class="l" cx="1018" cy="1116" r="4"/><circle class="k" cx="1032" cy="1080" r="9" style="stroke-width:2"/><circle class="b" cx="1032" cy="1080" r="4"/></g>
<path class="f" style="stroke:#333" d="M615.7 1365.1L615.7 1368.4L615.8 1371.7L615.9 1375.1L616.0 1378.4L616.1 1381.6L616.2 1384.8L616.2 1387.7L616.1 1390.6L616.0 1393.2L615.7 1395.6L615.4 1398.0L615.1 1400.4L614.7 1402.5L614.3 1404.5L613.9 1406.4L613.4 1408.0L612.8 1409.6L612.2 1411.2L611.4 1412.6L610.5 1414.3L609.3 1416.0L608.2 1417.7L607.1 1419.2L606.0 1420.6L604.8 1421.9L603.5 1423.1L601.9 1424.4L600.0 1425.8L597.7 1427.2L594.9 1428.7L591.6 1430.3L587.7 1432.0L583.2 1433.7L578.3 1435.4L573.1 1437.2L567.7 1439.0L562.3 1440.7L557.0 1442.5L551.7 1444.2L546.8 1445.9L542.2 1447.5L537.8 1449.1L533.4 1450.6L529.1 1452.1L524.8 1453.5L520.6 1455.0L516.3 1456.5L512.1 1457.9L507.8 1459.4L503.5 1460.9"/><path class="f" style="stroke:#333" d="M635.0 1364.9L635.0 1368.0L635.1 1371.2L635.2 1374.5L635.3 1377.8L635.4 1381.2L635.5 1384.5L635.5 1387.9L635.4 1391.3L635.2 1394.6L634.9 1397.7L634.6 1400.6L634.2 1403.3L633.7 1406.0L633.2 1408.7L632.5 1411.4L631.7 1414.0L630.8 1416.7L629.7 1419.3L628.3 1421.9L626.9 1424.4L625.4 1426.6L624.0 1428.8L622.4 1431.0L620.6 1433.2L618.5 1435.4L616.2 1437.6L613.6 1439.8L610.7 1441.9L607.4 1443.9L603.7 1445.9L599.5 1447.9L594.9 1449.9L589.9 1451.8L584.6 1453.7L579.2 1455.5L573.7 1457.3L568.3 1459.1L563.0 1460.8L557.9 1462.5L553.2 1464.1L548.6 1465.7L544.1 1467.3L539.7 1468.8L535.4 1470.3L531.1 1471.8L526.9 1473.3L522.6 1474.7L518.4 1476.2L514.1 1477.6L509.8 1479.1"/>
<g transform="translate(440,1250) scale(0.33333)"><ellipse class="k" cx="553" cy="295" rx="28" ry="14" style="stroke-width:1.4"/><ellipse class="l" cx="553" cy="297" rx="21" ry="9"/><path class="k" d="M525 295L527 345M581 295L585 345"/><path class="k" style="stroke-width:2.2" d="M527 340Q555 355 585 340"/><ellipse class="l" cx="200" cy="660" rx="10" ry="27" transform="rotate(-15 200 660)"/></g>
<path class="ff" style="stroke:#333" d="M269.0 43.1L267.8 44.2L266.7 45.2L265.5 46.2L264.4 47.2L263.2 48.3L261.9 49.4L260.7 50.5L259.4 51.7L258.1 53.0L256.8 54.3L255.5 55.7L254.1 57.2L252.8 58.7L251.4 60.3L250.0 61.9L248.6 63.5L247.3 65.0L246.1 66.5L244.9 67.9L243.8 69.2L242.9 70.4L242.0 71.6L241.2 72.6L240.5 73.6L239.8 74.6L239.2 75.4L238.6 76.3L238.0 77.1L237.4 78.0L236.7 78.9"/><path class="ff" style="stroke:#333" d="M276.4 51.3L275.2 52.4L274.0 53.4L272.8 54.5L271.6 55.5L270.4 56.5L269.3 57.6L268.2 58.6L267.0 59.7L265.9 60.8L264.8 61.9L263.6 63.2L262.3 64.6L261.0 66.0L259.6 67.5L258.3 69.1L257.0 70.6L255.7 72.1L254.5 73.6L253.4 74.9L252.4 76.2L251.5 77.3L250.7 78.3L250.0 79.2L249.4 80.1L248.8 80.9L248.2 81.7L247.6 82.6L247.0 83.5L246.3 84.4L245.7 85.3"/>
<path d="M234.4 80.7L218.7 108.7L230.5 115.3L246.2 87.3Z" fill="#ddd" stroke="none"/><path class="k" style="stroke-width:1.1" d="M234.4 80.7L246.2 87.3"/><path class="k" style="stroke-width:1.1" d="M232.7 83.8L244.4 90.4"/><path class="k" style="stroke-width:1.1" d="M230.9 86.9L242.7 93.5"/><path class="k" style="stroke-width:1.1" d="M229.2 90.0L241.0 96.6"/><path class="k" style="stroke-width:1.1" d="M227.4 93.1L239.2 99.7"/><path class="k" style="stroke-width:1.1" d="M225.7 96.3L237.5 102.9"/><path class="k" style="stroke-width:1.1" d="M223.9 99.4L235.7 106.0"/><path class="k" style="stroke-width:1.1" d="M222.2 102.5L234.0 109.1"/><path class="k" style="stroke-width:1.1" d="M220.5 105.6L232.2 112.2"/><path class="k" style="stroke-width:1.1" d="M218.7 108.7L230.5 115.3"/><path class="k" style="stroke-width:1.1" d="M234.4 80.7L218.7 108.7M246.2 87.3L230.5 115.3"/>
<path class="k" style="stroke-width:1.6" d="M231 80L247 88M229 83L245 91"/><path class="k" d="M226 78L234 82"/><circle class="b" cx="225.5" cy="78" r="1.8"/>
<path class="ff" style="stroke:#333" d="M217.9 112.0L217.2 113.8L216.5 115.5L215.8 117.3L215.1 119.1L214.3 121.0L213.6 123.0L212.8 125.1L212.2 127.3L211.6 129.6L211.1 131.9L210.7 134.3L210.4 136.7L210.1 139.1L209.9 141.6L209.8 144.2L209.7 146.7L209.6 149.4L209.7 152.1L209.8 154.8L210.0 157.5L210.3 160.3L210.6 163.1L211.0 165.9L211.5 168.8L212.0 171.7L212.6 174.6L213.3 177.6L214.0 180.6L214.9 183.7L215.8 186.7L216.7 189.8L217.7 193.0L218.8 196.2L219.9 199.5L221.1 202.9L222.5 206.2L223.9 209.6L225.4 212.9L227.0 216.2L228.8 219.4L230.6 222.6L232.5 225.7L234.5 228.8L236.7 231.9L238.9 235.0L241.2 238.0L243.6 241.0L246.2 243.8L248.8 246.5L251.6 249.0L254.4 251.4L257.4 253.5L260.4 255.5L263.5 257.4L266.6 259.1L269.8 260.7L273.0 262.2L276.2 263.7L279.4 265.1L282.7 266.5L286.1 267.9L289.6 269.3L293.2 270.5L296.8 271.7L300.4 272.8L304.0 273.9L307.6 275.0L311.2 276.0L314.7 277.1L318.2 278.2"/><path class="ff" style="stroke:#333" d="M229.1 116.0L228.4 118.0L227.7 119.9L226.9 121.8L226.2 123.6L225.5 125.4L224.8 127.1L224.2 128.8L223.7 130.5L223.3 132.2L222.9 134.1L222.6 136.1L222.3 138.1L222.1 140.3L221.9 142.5L221.7 144.7L221.7 147.0L221.6 149.3L221.7 151.7L221.8 154.1L222.0 156.5L222.2 159.0L222.5 161.5L222.9 164.1L223.3 166.7L223.8 169.4L224.3 172.1L225.0 174.8L225.7 177.6L226.4 180.4L227.2 183.3L228.2 186.2L229.1 189.3L230.1 192.4L231.2 195.5L232.4 198.6L233.6 201.7L234.9 204.8L236.2 207.8L237.7 210.7L239.2 213.6L240.9 216.4L242.7 219.3L244.5 222.2L246.5 225.1L248.5 227.8L250.6 230.5L252.7 233.1L254.9 235.6L257.2 237.9L259.4 240.0L261.8 241.9L264.2 243.7L266.8 245.4L269.4 247.0L272.2 248.5L275.1 249.9L278.0 251.3L281.1 252.7L284.2 254.1L287.3 255.5L290.5 256.8L293.7 258.0L297.0 259.1L300.4 260.2L303.9 261.3L307.5 262.4L311.0 263.5L314.7 264.5L318.3 265.6L321.8 266.8"/>
<path d="M317.5 278.1L329.5 282.6L334.5 269.4L322.5 264.9Z" fill="#888" stroke="none"/><path class="k" style="stroke-width:1.3" d="M317.5 278.1L322.5 264.9"/><path class="k" style="stroke-width:1.3" d="M320.5 279.2L325.5 266.1"/><path class="k" style="stroke-width:1.3" d="M323.5 280.3L328.5 267.2"/><path class="k" style="stroke-width:1.3" d="M326.5 281.4L331.5 268.3"/><path class="k" style="stroke-width:1.3" d="M329.5 282.6L334.5 269.4"/><path class="k" style="stroke-width:1.3" d="M317.5 278.1L329.5 282.6M322.5 264.9L334.5 269.4"/>
<path class="k" style="stroke-width:1.4" d="M334 267L340 264L345 268L343 287L338 288M336 271Q341 277 337 285"/><ellipse class="k" cx="346.5" cy="279" rx="3.2" ry="7" transform="rotate(18 346.5 279)"/>
<path class="ff" style="stroke:#333" d="M346.7 285.3L348.4 286.0L349.9 286.6L351.3 287.1L352.7 287.7L354.1 288.3L355.7 288.9L357.5 289.6L359.6 290.4L362.0 291.3L364.8 292.3L368.1 293.6L371.9 295.0L376.1 296.5L380.5 298.2L385.1 299.9L389.9 301.6L394.6 303.4L399.2 305.1L403.6 306.8L407.8 308.3L411.7 309.8L415.5 311.3L419.3 312.8L422.9 314.2L426.6 315.7L430.2 317.1L433.8 318.5L437.4 319.9L441.0 321.4L444.7 322.8"/><path class="ff" style="stroke:#333" d="M351.3 273.7L353.0 274.3L354.5 274.9L355.9 275.5L357.3 276.1L358.7 276.6L360.3 277.2L362.0 277.9L364.0 278.7L366.4 279.6L369.2 280.7L372.5 281.9L376.3 283.3L380.4 284.8L384.9 286.5L389.5 288.2L394.2 289.9L398.9 291.7L403.6 293.4L408.0 295.1L412.2 296.7L416.2 298.2L420.0 299.7L423.8 301.1L427.5 302.6L431.2 304.0L434.8 305.5L438.4 306.9L442.0 308.3L445.6 309.7L449.3 311.2"/>
<g transform="translate(420,280) scale(0.23615)"><path class="ff" style="stroke:#333" d="M138.0 140.0L141.4 136.9L144.7 133.7L148.0 130.4L151.3 127.0L154.6 123.8L158.0 120.6L161.4 117.5L164.8 114.7L168.4 112.2L172.0 110.0L175.7 108.0L179.5 106.2L183.2 104.5L187.1 103.0L191.0 101.8L195.0 100.7L199.1 100.0L203.3 99.6L207.6 99.6L212.0 100.0L216.5 100.8L221.1 102.1L225.7 103.7L230.4 105.7L235.2 108.0L240.2 110.5L245.4 113.2L250.7 116.1L256.2 119.0L262.0 122.0L268.1 125.2L274.4 128.6L281.1 132.2L287.9 136.0L294.9 140.0L301.9 144.0L309.0 148.1L316.1 152.1L323.1 156.1L330.0 160.0"/><path class="ff" style="stroke:#333" d="M200.0 160.0L203.9 160.9L207.5 161.5L211.1 162.1L214.6 162.6L218.1 163.1L221.8 163.8L225.8 164.8L230.1 166.1L234.8 167.8L240.0 170.0L245.8 172.8L252.1 176.1L258.8 179.8L265.8 183.8L273.1 188.1L280.6 192.6L288.1 197.1L295.5 201.5L302.9 205.9L310.0 210.0"/><path class="ff" style="stroke:#333" d="M150.0 205.0L158.0 209.3L166.1 213.5L174.2 217.8L182.2 222.0L190.3 226.2L198.4 230.5L206.4 234.8L214.3 239.1L222.2 243.5L230.0 248.0L237.7 252.5L245.3 257.1L252.9 261.8L260.4 266.5L267.8 271.2L275.2 276.0L282.7 280.8L290.1 285.5L297.5 290.3L305.0 295.0"/><path class="k" d="M205 160Q225 158 240 170L300 205"/><path class="b" d="M78 180L158 200L125 222L90 208Z"/><path class="f" style="stroke:#333" d="M72.0 200.0L71.8 204.0L71.3 207.9L70.6 211.7L69.8 215.6L69.1 219.5L68.7 223.4L68.6 227.4L69.1 231.5L70.1 235.7L72.0 240.0L74.7 244.5L78.3 249.1L82.4 253.8L87.1 258.6L92.1 263.5L97.4 268.4L102.8 273.3L108.1 278.3L113.2 283.2L118.0 288.0"/><path class="f" style="stroke:#333" d="M132.0 226.0L132.3 228.0L132.5 230.1L132.6 232.1L132.6 234.2L132.8 236.2L133.0 238.3L133.3 240.3L133.9 242.3L134.8 244.2L136.0 246.0L137.6 247.8L139.5 249.5L141.7 251.1L144.2 252.7L146.8 254.2L149.4 255.8L152.2 257.3L154.9 258.9L157.5 260.4L160.0 262.0"/><path class="k" d="M118 288L150 310L175 262L160 258M138 300L160 262M148 285L168 270" style="stroke-width:1.3"/><path class="k" d="M330 160Q310 185 322 222M372 165Q350 190 362 228M330 160L372 165" style="stroke-width:1.3"/><path class="k" style="stroke-width:1.6" d="M308 250L322 240L336 250L334 270L320 280L306 268Z"/><circle class="b" cx="321" cy="260" r="5"/><path class="k" style="stroke-width:1.5" d="M352 240L358 262L375 258M358 262L340 305"/><path class="ff" style="stroke:#333" d="M357.4 224.0L380.7 233.1L404.0 242.2L427.3 251.2L450.6 260.2L473.9 269.3L497.1 278.3L520.2 287.4L543.3 296.5L566.2 305.7L589.1 314.9L611.8 324.2L634.5 333.5L657.0 343.0L679.6 352.4L702.1 362.0L724.5 371.5L747.0 381.1L769.6 390.6L792.1 400.2L814.7 409.7"/><path class="ff" style="stroke:#333" d="M378.6 170.0L401.8 179.1L425.0 188.1L448.3 197.1L471.6 206.2L494.9 215.2L518.2 224.3L541.5 233.4L564.7 242.6L587.8 251.8L610.9 261.1L633.9 270.5L656.7 280.0L679.5 289.5L702.1 299.0L724.7 308.5L747.2 318.1L769.7 327.7L792.2 337.2L814.7 346.8L837.3 356.3"/><path d="M386.7 351.3L459.7 391.3L496.3 324.7L423.3 284.7Z" fill="#ccc" stroke="none"/><path class="k" style="stroke-width:1.4" d="M386.7 351.3L423.3 284.7"/><path class="k" style="stroke-width:1.4" d="M397.2 357.0L433.7 290.4"/><path class="k" style="stroke-width:1.4" d="M407.6 362.8L444.1 296.1"/><path class="k" style="stroke-width:1.4" d="M418.0 368.5L454.5 301.8"/><path class="k" style="stroke-width:1.4" d="M428.5 374.2L465.0 307.5"/><path class="k" style="stroke-width:1.4" d="M438.9 379.9L475.4 313.2"/><path class="k" style="stroke-width:1.4" d="M449.3 385.6L485.8 319.0"/><path class="k" style="stroke-width:1.4" d="M459.7 391.3L496.3 324.7"/><path class="k" style="stroke-width:1.4" d="M386.7 351.3L459.7 391.3M423.3 284.7L496.3 324.7"/><path class="k" d="M478 320L510 345L480 398L445 378" style="stroke-width:1.3"/><path class="ff" style="stroke:#333" d="M483.4 394.4L495.9 400.9L508.3 407.3L520.9 413.7L533.3 420.1L545.8 426.5L558.2 432.9L570.6 439.2L582.9 445.6L595.1 452.0L607.1 458.3L619.1 464.7L631.0 471.0L642.8 477.4L654.5 483.8L666.2 490.1L677.9 496.5L689.6 502.9L701.3 509.3L713.1 515.8L724.9 522.2"/><path class="ff" style="stroke:#333" d="M508.6 345.6L521.0 351.9L533.4 358.3L545.9 364.7L558.4 371.1L570.9 377.5L583.4 383.9L595.9 390.4L608.3 396.8L620.6 403.2L632.9 409.7L645.0 416.1L657.0 422.6L668.9 429.0L680.8 435.4L692.5 441.9L704.3 448.3L716.0 454.7L727.7 461.1L739.4 467.4L751.1 473.8"/><path class="k" style="stroke-width:1.7" d="M790 410Q810 395 835 408M800 425Q830 420 845 445M848 362Q870 350 880 375M845 380L870 395L880 430M860 440L885 455M835 455L850 470M875 340L885 352"/><path class="f" style="stroke:#222" d="M880 385L905 395M880 445L905 432"/><path class="ff" style="stroke:#222" d="M905 395L1020 405M905 432L1020 440"/><rect class="b" x="1016" y="402" width="9" height="38"/><path class="f" d="M955 400L955 438"/><path class="ff" style="stroke:#222" d="M740.0 498.0L737.3 502.2L734.4 506.3L731.4 510.3L728.3 514.4L725.3 518.5L722.5 522.6L719.9 526.8L717.8 531.1L716.1 535.5L715.0 540.0L714.4 544.7L714.3 549.7L714.5 554.9L715.0 560.1L715.9 565.4L717.2 570.7L718.7 575.9L720.5 580.8L722.6 585.6L725.0 590.0L727.8 594.1L731.1 598.0L734.8 601.6L738.8 605.1L743.1 608.4L747.6 611.7L752.1 615.0L756.5 618.2L760.9 621.6L765.0 625.0"/><path class="ff" style="stroke:#222" d="M790.0 510.0L787.3 513.5L784.4 516.8L781.4 520.2L778.3 523.5L775.3 526.9L772.5 530.3L769.9 533.8L767.8 537.4L766.1 541.1L765.0 545.0L764.5 549.2L764.5 553.7L765.0 558.4L765.8 563.2L766.9 568.1L768.2 573.0L769.8 577.7L771.5 582.1L773.2 586.3L775.0 590.0L776.9 593.3L779.0 596.3L781.4 599.0L783.9 601.4L786.6 603.8L789.3 606.0L792.0 608.1L794.8 610.3L797.4 612.6L800.0 615.0"/><path class="k" style="stroke-width:1.7" d="M790 570Q815 560 840 575M800 595Q830 590 850 610M850 520Q872 510 880 535M848 545L872 558L882 600M860 610L885 622M875 500L888 512"/><path class="f" style="stroke:#222" d="M880 550L905 560M880 610L905 595"/><path class="ff" style="stroke:#222" d="M905 560L1020 568M905 595L1020 598"/><rect class="b" x="1018" y="565" width="10" height="34"/><path class="f" d="M955 563L955 597"/><path class="k" style="stroke-width:2.4" d="M782 408L800 398L835 410L850 440L838 462M820 440Q835 420 828 400M870 350L880 338L888 350M855 368L878 372L892 395"/><path class="f" style="stroke:#222" d="M845 362L790 410M880 395L905 395"/><path class="k" style="stroke-width:2.4" d="M782 575L800 562L838 575L852 605L840 628M822 605Q838 588 830 566M870 512L882 500L890 512M855 530L878 535L892 558"/><path class="f" style="stroke:#222" d="M845 525L795 572M790 640L830 655L860 640"/></g>
<g transform="translate(190,0) scale(0.18165)"><path class="k" style="stroke-width:2" d="M445 225Q470 190 505 200Q530 250 520 300Q500 320 480 310Q470 270 445 225M470 200Q495 240 490 315"/><path class="k" style="stroke-width:1.4" d="M520 190Q535 150 570 150Q590 170 580 200Q560 215 530 205"/><path class="k" d="M520 112L580 125M515 105L525 120"/><circle class="b" cx="520" cy="110" r="7"/><path class="ff" style="stroke:#222" d="M585.0 118.0L590.6 117.5L596.2 116.8L602.0 115.9L607.7 115.0L613.4 114.1L619.1 113.5L624.6 113.1L630.0 113.2L635.1 113.8L640.0 115.0L644.7 116.8L649.4 119.1L654.0 121.8L658.5 124.8L662.8 128.2L666.9 132.0L670.7 136.1L674.2 140.5L677.3 145.1L680.0 150.0L682.2 155.3L683.9 161.1L685.2 167.3L686.2 173.8L686.9 180.6L687.4 187.6L687.9 194.6L688.5 201.5L689.1 208.4L690.0 215.0"/><path class="ff" style="stroke:#222" d="M600.0 150.0L602.6 150.9L605.3 151.5L608.1 152.1L610.9 152.6L613.6 153.1L616.3 153.8L618.8 154.8L621.2 156.1L623.2 157.8L625.0 160.0L626.4 162.8L627.6 166.1L628.4 169.8L629.1 173.8L629.6 178.1L630.1 182.6L630.5 187.1L630.9 191.5L631.4 195.9L632.0 200.0"/><path class="k" style="stroke-width:1.5" d="M612 222Q650 205 690 218M612 240Q650 225 692 238M615 262Q650 250 690 262M575 250L640 275M575 250L590 240"/><path class="f" style="stroke:#222" d="M625 275L640 340M690 270L685 360M520 300L600 290L625 310"/><path class="k" d="M530 335L610 310M545 360L615 315" style="stroke-width:1.4"/><path class="l" d="M530 340L640 480L780 520L795 500M615 320L710 430L785 470M640 480L710 432" /><path class="k" style="stroke-width:1.8" d="M645 478L708 433"/><circle class="l" cx="623" cy="378" r="8"/><circle class="l" cx="665" cy="370" r="7"/><circle class="l" cx="725" cy="455" r="5"/><circle class="l" cx="742" cy="490" r="6"/><circle class="k" cx="805" cy="500" r="20" style="stroke-width:2.5"/><circle class="b" cx="805" cy="500" r="8"/><path class="k" d="M795 520L798 545L812 545L815 520"/><path class="k" d="M195 440L245 455"/><circle class="b" cx="203" cy="442" r="8"/></g>
<g id="heater" transform="translate(525,420) scale(.23615)"><path class="f" style="stroke:#222" d="M318.0 480.0L317.5 484.9L317.1 489.8L316.9 494.5L316.6 499.3L316.3 504.1L315.9 508.9L315.3 513.9L314.5 519.0L313.5 524.4L312.0 530.0L310.4 535.9L308.9 542.1L307.3 548.6L305.5 555.2L303.4 561.9L301.0 568.6L298.0 575.4L294.4 582.1L290.1 588.6L285.0 595.0L279.4 601.2L273.6 607.2L267.4 613.1L260.7 619.0L253.3 624.9L245.1 630.7L235.8 636.6L225.3 642.6L213.4 648.7L200.0 655.0L184.3 661.6L165.9 668.4L145.6 675.6L124.0 682.8L101.6 690.0L79.0 697.1L57.0 704.0L36.1 710.5L16.9 716.5L0.0 722.0L-14.6 726.9L-27.8 731.2L-39.6 735.1L-50.5 738.6L-60.6 741.9L-70.3 745.1L-79.8 748.2L-89.4 751.3L-99.4 754.5L-110.0 758.0"/><path class="f" style="stroke:#222" d="M390.0 505.0L389.2 510.9L388.6 516.6L388.1 522.2L387.7 527.8L387.2 533.4L386.5 539.2L385.6 545.2L384.2 551.4L382.4 558.0L380.0 565.0L377.2 572.5L374.3 580.6L371.1 589.1L367.6 597.8L363.8 606.8L359.4 615.7L354.4 624.7L348.7 633.4L342.3 641.9L335.0 650.0L327.2 657.7L319.0 665.3L310.4 672.6L301.2 679.8L291.2 686.9L280.4 694.0L268.5 701.0L255.4 707.9L241.0 714.9L225.0 722.0L206.6 729.2L185.3 736.7L161.9 744.3L137.0 751.9L111.6 759.4L86.2 766.8L61.6 773.8L38.5 780.4L17.8 786.5L0.0 792.0L-14.8 796.8L-27.3 801.0L-38.1 804.6L-47.4 807.9L-55.6 810.8L-63.2 813.6L-70.6 816.3L-78.1 819.0L-86.1 821.9L-95.0 825.0"/><path class="k" d="M320 420Q305 470 335 500Q365 515 392 500"/><path class="l" d="M218 715L220 728"/><ellipse class="w" cx="-103" cy="792" rx="14" ry="35" transform="rotate(-12 -103 792)" style="fill:none"/><path class="k" style="stroke-width:1.3" d="M322 420L338 442L850 612L1012 500L1030 505M332 466L845 636L850 612M845 636L1028 520L1030 350"/><path class="l" d="M345 455L840 622"/><path class="k" style="stroke-width:1.3" d="M385 498L488 658Q500 672 520 668L612 590L760 628"/><circle class="k" cx="415" cy="500" r="9" style="stroke-width:1.6"/><circle class="k" cx="576" cy="553" r="9"/><circle class="k" cx="497" cy="645" r="8"/><circle class="k" cx="525" cy="465" r="14" style="stroke-width:1.8"/><circle class="b" cx="525" cy="465" r="6"/><circle class="k" cx="780" cy="550" r="14" style="stroke-width:1.8"/><circle class="b" cx="780" cy="550" r="6"/><path class="k" style="stroke-width:1.5" d="M790 620L835 630L838 650L795 642Z"/><circle class="b" cx="815" cy="635" r="8"/><path class="k" style="stroke-width:1.3" d="M962 335L1036 348L1040 365L1030 580L965 562M1018 352L1015 575"/><circle class="k" cx="992" cy="376" r="18" style="stroke-width:1.7"/><circle class="l" cx="990" cy="378" r="10"/><circle class="k" cx="985" cy="542" r="15" style="stroke-width:1.7"/><circle class="l" cx="968" cy="548" r="9"/><ellipse class="w" cx="58" cy="190" rx="17" ry="66"/><path class="k" style="stroke-width:2" d="M58 124Q38 150 42 200Q46 245 60 256"/><path class="w" d="M60 124L150 135L172 165L172 335L62 256Q78 190 60 124Z"/><path class="l" d="M135 133Q118 195 137 262"/><path class="w" d="M150 140Q148 100 195 88L212 62Q245 40 282 62L285 100L250 118L175 160Z"/><ellipse class="k" cx="252" cy="72" rx="42" ry="24" style="stroke-width:1.4"/><path class="k" style="stroke-width:1.4" d="M210 75Q212 104 250 110Q290 106 294 78M215 100Q250 128 292 100M143 104Q150 72 215 52"/><path class="b" d="M225 118L262 122L250 135L230 132Z"/><path class="w" d="M172 165L330 195L400 235L520 250Q548 320 520 400L390 368L172 335Z"/><path class="k" style="stroke-width:3" d="M176 168L180 332M196 172L198 334"/><path class="k" style="stroke-width:2" d="M172 185L200 190M172 320L200 325M168 335L205 338"/><path class="l" d="M228 178Q215 260 232 340M250 182Q238 262 254 343M322 200Q310 275 325 354"/><path class="k" style="stroke-width:2.6" d="M278 190L282 345M296 193L299 348"/><path class="k" style="stroke-width:1.6" d="M262 205L300 210M262 225L300 228M268 330L300 336"/><path class="b" d="M348 212L388 226L390 366L352 358Z"/><path class="l" style="stroke:#fff" d="M365 300Q358 320 368 340"/><path class="l" d="M400 240Q385 300 400 365M430 250Q418 310 432 372M470 258Q460 320 470 385"/><path class="k" d="M172 335L390 368L520 400"/><path class="w" style="stroke-width:1.4" d="M172 152L186 126L335 152L445 196L410 242L328 196L175 166Z"/><path class="k" d="M410 160L385 205M435 172L408 218"/><path class="w" d="M445 196L475 250L505 320L535 382L492 390L465 345L438 290L405 242Z"/><path class="k" d="M465 300L512 285M470 312L518 298M476 326L523 312M482 340L528 328M488 354L532 344M494 370L535 360" style="stroke-width:1.2"/><ellipse class="w" cx="375" cy="115" rx="36" ry="42" style="stroke-width:1.4"/><path class="k" d="M345 100Q375 85 405 100M343 125Q375 112 408 128M345 150Q375 138 405 152"/><path class="k" style="stroke-width:2" d="M420 90L450 100L455 140L430 150M425 110L455 118M300 95L330 80L345 60M318 118L338 150"/><path class="b" d="M430 120L460 128L462 165L440 170Z"/><path class="k" d="M330 40L355 20L395 25L410 55L385 75L345 70Z"/><path class="k" style="stroke-width:2" d="M405 30L440 40L445 70"/><path class="k" style="stroke-width:1.2" d="M395.0 85.0L402.6 85.3L410.2 85.3L418.0 85.1L425.7 84.8L433.4 84.7L441.1 84.8L448.6 85.2L456.0 86.1L463.1 87.7L470.0 90.0L476.7 93.1L483.2 96.7L489.7 100.9L495.9 105.6L502.1 110.6L508.0 116.0L513.8 121.7L519.4 127.7L524.8 133.8L530.0 140.0L534.9 146.5L539.6 153.4L543.9 160.7L548.1 168.2L552.1 175.9L556.1 183.8L560.0 191.7L563.9 199.6L567.9 207.4L572.0 215.0"/><path class="k" style="stroke-width:1.2" d="M398.0 98.0L404.8 98.3L411.6 98.3L418.5 98.2L425.4 98.0L432.2 97.9L439.1 98.0L445.8 98.4L452.4 99.3L458.8 100.8L465.0 103.0L471.1 105.9L477.0 109.3L482.9 113.2L488.6 117.6L494.2 122.3L499.7 127.4L505.0 132.7L510.2 138.3L515.2 144.1L520.0 150.0L524.6 156.2L529.0 162.8L533.1 169.8L537.1 177.0L540.9 184.4L544.7 192.0L548.5 199.6L552.2 207.2L556.1 214.7L560.0 222.0"/><path class="w" style="stroke-width:1.4" d="M544 32L734 70L737 158L657 250L478 218L478 128Z"/><path class="k" style="stroke-width:1.4" d="M478 128L659 152L734 70M659 152L657 250M544 32L497 75L478 128"/><path class="l" d="M497 75L668 105"/><path class="w" style="stroke-width:1.5" d="M715 186L780 116L858 132L800 203Z"/><path class="b" d="M858 132L872 160L820 215L800 203Z"/><ellipse class="b" cx="804" cy="144" rx="9" ry="5"/><ellipse class="b" cx="774" cy="182" rx="9" ry="5"/><path class="k" d="M715 186L718 230L800 250L800 203"/><path class="w" style="stroke-width:1.4" d="M858 180L855 345Q912 385 972 345L970 180Z"/><ellipse class="b" cx="914" cy="178" rx="56" ry="27" style="fill:#444"/><ellipse class="w" cx="914" cy="172" rx="40" ry="17" style="fill:#aaa"/><ellipse class="b" cx="914" cy="170" rx="20" ry="8"/><path class="k" style="stroke-width:1.4" d="M858 235Q912 270 970 235M857 270Q912 305 971 270M856 305Q912 340 972 305"/><path class="k" d="M870 320L870 350M885 328L885 360M900 332L900 365M915 333L915 367M930 332L930 365M945 328L945 360M958 322L958 352"/><path class="k" style="stroke-width:1.4" d="M865 355Q912 395 965 360L960 385Q912 415 870 385Z"/><path class="b" d="M565 215L590 205L600 235L575 245Z"/><path class="w" style="stroke-width:1.5" d="M572 250L628 225L660 300L608 330Z"/><path class="k" style="stroke-width:2.2" d="M580 270L635 245M588 290L645 265M598 312L652 288"/><path class="b" d="M608 330L650 310L662 345L628 362Z"/><path class="k" style="stroke-width:2" d="M628 362L645 405M648 355L662 395"/><path class="k" style="stroke-width:1.6" d="M640 265L690 250L705 290L668 305M665 275Q680 268 685 285"/><circle class="k" cx="672" cy="285" r="9"/><path class="w" style="stroke-width:1.3" d="M700 230Q760 215 790 270Q810 330 770 380Q730 400 700 360Z"/><path class="k" d="M720 260Q760 250 775 290Q785 335 755 365M740 290Q760 300 755 335"/><path class="k" style="stroke-width:2" d="M690 215L712 240M685 240L700 262M780 230L800 215L820 240M800 260L830 255L835 300"/><path class="b" d="M815 195L850 190L855 235L825 245Z"/><path class="w" style="stroke-width:1.3" d="M790 300L860 300L862 350L795 355Z"/><path class="k" d="M810 300L812 352M835 300L838 350"/><path class="w" style="stroke-width:1.4" d="M598 440Q610 415 650 420L700 400L760 395L850 400Q900 420 935 440L930 470Q880 490 830 470L760 480L700 478L650 470L600 480Z"/><path class="k" style="stroke-width:1.5" d="M655 422Q640 445 655 470M700 402Q690 440 702 478M760 396Q750 438 762 480M830 400Q822 435 832 470M880 415Q900 440 885 475"/><circle class="k" cx="668" cy="432" r="13" style="stroke-width:2.2"/><circle class="b" cx="668" cy="432" r="5"/><path class="k" style="stroke-width:2.2" d="M712 420Q728 432 716 460M740 422Q756 436 744 462M800 430L812 470"/><path class="b" d="M655 485L690 480L695 510L665 512Z"/><path class="k" style="stroke-width:1.4" d="M870 385Q912 420 960 392M930 440L962 420M700 360L760 395"/><path class="w" style="stroke-width:1.4" d="M385 372Q405 350 428 372L435 440L395 432Z"/><circle class="k" cx="407" cy="380" r="10" style="stroke-width:1.7"/><path class="k" style="stroke-width:1.4" d="M435 440L492 385M330 380L350 400L385 398M318 360L340 395"/><path class="b" d="M320 380L345 372L352 395L330 402Z"/><path class="k" style="stroke-width:2" d="M640.0 400.0L645.0 407.0L650.0 413.9L655.0 420.8L660.0 427.8L665.0 434.7L670.0 441.6L675.0 448.6L680.0 455.7L685.0 462.8L690.0 470.0L695.0 477.2L700.0 484.4L705.0 491.7L710.0 498.9L715.0 506.2L720.0 513.7L725.0 521.2L730.0 529.0L735.0 536.9L740.0 545.0L745.0 553.4L750.0 562.0L755.0 570.9L760.0 579.9L765.0 589.1L770.0 598.3L775.0 607.5L780.0 616.8L785.0 625.9L790.0 635.0"/><path class="k" style="stroke-width:1" d="M650.0 396.0L655.0 402.9L660.0 409.7L665.0 416.5L670.0 423.3L675.0 430.1L680.0 437.0L685.0 443.9L690.0 450.8L695.0 457.9L700.0 465.0L705.0 472.2L710.0 479.4L715.0 486.6L720.0 493.8L725.0 501.2L730.0 508.6L735.0 516.2L740.0 523.9L745.0 531.9L750.0 540.0L755.0 548.4L760.0 557.0L765.0 565.9L770.0 574.9L775.0 584.1L780.0 593.3L785.0 602.5L790.0 611.8L795.0 620.9L800.0 630.0"/><path class="k" style="stroke-width:2.4" d="M336 78Q372 62 408 80M336 96Q372 82 408 100M336 135Q372 122 410 140M320 20L350 8L385 14M322 40L350 50L380 42"/><path class="b" d="M412 82L470 100L475 130L452 128L448 112L415 104Z"/><path class="b" d="M440 140L478 150L482 178L450 172Z"/><path class="k" style="stroke-width:2.2" d="M300 60L318 30M305 150L322 188M455 182L470 205M395 160L420 190"/><circle class="k" cx="745" cy="323" r="47" style="stroke-width:3;stroke-dasharray:3 3"/><circle class="k" cx="745" cy="323" r="34" style="stroke-width:1.6"/><path class="k" style="stroke-width:2" d="M725 300L765 345M722 335L770 305"/><path class="b" d="M795 192L845 188L850 258L818 262L800 240Z"/><path class="k" style="stroke-width:2" d="M792 296Q780 325 795 358M815 298Q805 325 818 355M840 300Q832 325 842 352"/><path class="k" style="stroke-width:2.4" d="M655 400Q640 430 660 465M690 398Q720 430 700 470M725 405Q745 435 728 470"/><path class="b" d="M745 420L770 415L778 460L752 465Z"/><path class="b" d="M800 425L822 420L830 462L808 468Z"/><path class="k" style="stroke-width:2" d="M540 235L575 300L560 330M545 260L520 250M680 215L700 200L712 225M560 340L600 420L640 400"/><path class="b" d="M690 290L712 282L720 315L700 322Z"/><path class="k" style="stroke-width:1.6" d="M330 395L300 380L312 352M352 395L380 398"/><path class="k" style="stroke-width:2.2" d="M320 420Q300 470 335 500Q365 512 392 500"/></g>
<g id="tank" transform="translate(820,300) scale(.13624)"><path class="w" style="stroke-width:1.1" d="M648 195L650 280Q740 340 832 280L832 195Z"/><ellipse class="w" cx="740" cy="195" rx="92" ry="45" style="stroke-width:1.1"/><path class="ff" style="stroke:#2a2a2a" d="M640 285Q740 355 842 290"/><path class="ff" style="stroke:#2a2a2a" d="M125.0 760.0L125.4 753.0L125.6 746.0L125.7 739.0L125.8 732.0L125.9 725.0L126.2 718.0L126.7 711.0L127.4 704.0L128.5 697.0L130.0 690.0L131.8 682.9L133.8 675.7L136.1 668.4L138.5 661.1L141.2 653.9L144.3 646.7L147.6 639.7L151.4 632.8L155.5 626.3L160.0 620.0L165.1 614.1L170.8 608.4L176.9 603.1L183.5 597.9L190.3 592.9L197.3 587.9L204.4 583.0L211.4 578.1L218.3 573.1L225.0 568.0"/><path class="ff" style="stroke:#2a2a2a" d="M225 568L640 272M835 295L900 300Q950 330 963 400L960 520L948 800L944 940Q925 1005 880 1040L500 1340L440 1362L362 1382L300 1342L200 1292L140 1262Q118 1230 120 1195L126 1100L140 880L125 760"/><path class="ff" style="stroke:#2a2a2a" d="M158.0 752.0L158.6 745.8L159.0 739.5L159.2 733.3L159.5 727.0L159.8 720.8L160.2 714.5L160.8 708.3L161.8 702.1L163.2 696.0L165.0 690.0L167.3 684.0L169.8 677.9L172.7 671.7L175.9 665.6L179.3 659.6L183.0 653.7L186.9 648.0L191.1 642.4L195.4 637.1L200.0 632.0L204.9 627.3L210.1 622.8L215.7 618.7L221.5 614.7L227.6 610.9L233.7 607.1L239.9 603.4L246.0 599.7L252.1 595.9L258.0 592.0"/><path class="ff" style="stroke:#2a2a2a" d="M240.0 566.0L255.2 570.0L271.0 573.9L287.2 577.7L303.4 581.6L319.5 585.4L335.1 589.4L350.1 593.3L364.0 597.4L376.8 601.6L388.0 606.0L398.1 610.5L407.4 615.0L416.0 619.7L423.8 624.4L430.6 629.2L436.4 634.2L441.1 639.2L444.6 644.4L447.0 649.6L448.0 655.0L447.3 660.5L444.6 666.2L440.3 672.0L434.8 678.0L428.4 684.0L421.4 690.1L414.2 696.3L407.2 702.5L400.7 708.7L395.0 715.0L389.8 721.4L384.4 727.9L378.9 734.5L373.5 741.3L368.1 748.0L362.9 754.7L357.9 761.3L353.2 767.8L348.9 774.0L345.0 780.0L341.6 785.7L338.7 791.2L336.1 796.6L333.9 801.7L331.8 806.8L329.9 811.8L328.0 816.8L326.2 821.8L324.2 826.9L322.0 832.0"/><path class="ff" style="stroke:#2a2a2a" d="M420.0 700.0L415.7 707.0L411.2 714.1L406.6 721.3L402.0 728.4L397.4 735.5L392.9 742.6L388.7 749.6L384.7 756.5L381.1 763.3L378.0 770.0L375.3 776.5L373.1 782.9L371.3 789.2L369.7 795.4L368.4 801.5L367.2 807.6L366.0 813.7L364.8 819.7L363.5 825.8L362.0 832.0"/><path class="ff" style="stroke:#2a2a2a" d="M125 790L310 826L392 810L602 690"/><path class="k" style="stroke-width:1.6" d="M128 852L200 880L350 925L410 905L592 790"/><path class="ff" style="stroke:#2a2a2a" d="M390 606L640 440M448 655L625 532M440 702L618 582M250 545L480 380"/><path class="k" style="stroke-width:1.2" d="M630 445L620 600L590 800L556 1060L520 1092L492 1335M800 350L820 480L850 700L870 900L890 1040"/><path class="k" style="stroke-width:1.3" d="M630 445L800 350M492 372L630 445M560 330L640 290"/><path class="k" style="stroke-width:2.4" d="M522 1085L870 852"/><path class="k" d="M556 1050L860 845"/><circle class="k" cx="785" cy="620" r="28" style="stroke-width:2.2"/><circle class="b" cx="785" cy="620" r="14" style="fill:#444"/><circle class="k" cx="695" cy="690" r="27" style="stroke-width:2.2"/><circle class="b" cx="695" cy="690" r="13" style="fill:#444"/><circle class="k" cx="835" cy="830" r="30" style="stroke-width:2.2"/><circle class="b" cx="835" cy="830" r="15" style="fill:#444"/><circle class="k" cx="650" cy="955" r="30" style="stroke-width:2.2"/><circle class="b" cx="650" cy="955" r="15" style="fill:#444"/><circle class="b" cx="946" cy="780" r="14" style="fill:#444"/><path class="f" d="M870 822L938 788M875 838L945 800"/><path class="ff" style="stroke:#2a2a2a" d="M815 400L880 330Q930 340 945 420M830 420L890 352Q925 362 935 430"/><path class="k" style="stroke-width:1.5" d="M845 592L957 522"/><path class="ff" style="stroke:#2a2a2a" d="M870 900L880 1040M950 800L905 1010"/><path class="ff" style="stroke:#2a2a2a" d="M130 1100L310 1165L392 1175L520 1092M125 1132L310 1192L396 1186M300 832L300 1170L305 1335M352 926L356 1172M140 880L140 1100M305 1335L400 1310M520 1310L870 1045"/><path class="k" style="stroke-width:1.3" d="M120 1105Q135 1095 150 1135M300 1165L315 1185M385 1172L398 1190"/><ellipse class="ff" style="stroke:#2a2a2a" cx="450" cy="1265" rx="40" ry="66"/><path class="k" style="stroke-width:1.4" d="M492 1335L470 1352L440 1345M345 1380L375 1395M500 1180L492 1335"/><path class="k" style="stroke-width:2.4" d="M352 560L376 458L432 432M352 560L385 548M432 432L440 525L395 548"/><path class="k" d="M385 470L430 455L436 522L392 540Z"/><circle class="l" cx="410" cy="495" r="6"/><path class="k" style="stroke-width:2.2" d="M486 462L502 385L562 432L520 460L486 462M502 385L522 352"/><path class="k" style="stroke-width:3.5;stroke:#555" d="M522 352L602 312"/><path class="k" style="stroke-width:2.2" d="M165 1270L255 1300L262 1340L225 1355L175 1335ZM190 1340L185 1400M225 1355L222 1410M150 1410L235 1395M160 1380L175 1420"/><path class="b" d="M195 1290L245 1305L245 1340L200 1330Z"/></g>
<g transform="translate(734,250) scale(0.33333)"><path class="k" style="stroke-width:1.1" d="M335.0 719.8L333.0 789.8"/><path class="k" style="stroke-width:1.1" d="M349.0 720.2L347.0 790.2"/><path class="k" style="stroke-width:3;stroke:#333" d="M340.0 790.0L340.6 794.0L341.5 798.2L342.4 802.3L343.4 806.5L344.4 810.6L345.2 814.7L345.7 818.7L345.9 822.6L345.7 826.4L345.0 830.0L343.7 833.5L342.0 836.9L339.9 840.2L337.4 843.4L334.7 846.6L331.8 849.6L328.8 852.4L325.8 855.1L322.8 857.7L320.0 860.0L317.2 862.1L314.3 864.0L311.4 865.6L308.4 867.1L305.3 868.4L302.2 869.7L299.2 871.0L296.1 872.2L293.0 873.6L290.0 875.0"/><path class="k" style="stroke-width:1.2" d="M285 878L130 985M282 870L128 978"/><path class="k" style="stroke-width:1.8" d="M250 865L262 858L275 870L268 900L255 905M235 895L250 885L258 910M228 900L240 915"/><path class="k" style="stroke-width:1.8" d="M98 975L112 968L125 985L118 1005L105 1010M92 990L108 1000"/><path class="k" style="stroke-width:3.2;stroke:#222" d="M100.0 1005.0L97.5 1008.0L95.1 1011.2L92.7 1014.3L90.2 1017.5L87.8 1020.7L85.4 1023.8L82.9 1026.8L80.3 1029.7L77.7 1032.4L75.0 1035.0L72.2 1037.4L69.3 1039.7L66.4 1042.0L63.4 1044.1L60.3 1046.1L57.2 1048.0L54.2 1049.7L51.1 1051.3L48.0 1052.8L45.0 1054.0L42.0 1055.1L39.0 1056.0L36.1 1056.8L33.1 1057.4L30.2 1057.9L27.2 1058.3L24.2 1058.4L21.2 1058.5L18.1 1058.3L15.0 1058.0L11.8 1057.6L8.5 1057.1L5.1 1056.5L1.7 1055.7L-1.7 1054.8L-5.1 1053.7L-8.4 1052.2L-11.7 1050.5L-14.9 1048.4L-18.0 1046.0L-21.0 1043.1L-23.9 1039.7L-26.8 1035.9L-29.6 1031.7L-32.4 1027.4L-35.1 1022.9L-37.7 1018.3L-40.2 1013.7L-42.7 1009.3L-45.0 1005.0L-47.2 1000.8L-49.3 996.7L-51.3 992.5L-53.2 988.3L-55.0 984.1L-56.8 979.8L-58.6 975.6L-60.3 971.4L-62.1 967.2L-64.0 963.0"/></g>
<g transform="translate(520,1120) scale(.27248)"><path class="f" style="stroke:#333" d="M350 548L830 690L990 560Q1000 540 985 518L940 500M350 557L826 700L830 690M350 548L402 518"/><path class="k" style="stroke-width:1.5" d="M842 684L985 562"/><path class="f" style="stroke:#333" d="M352 562L400 612L482 722Q495 748 530 745L612 672"/><circle class="l" cx="425" cy="600" r="8"/><circle class="l" cx="580" cy="640" r="8"/><circle class="l" cx="510" cy="735" r="8"/><circle class="k" cx="530" cy="565" r="12" style="stroke-width:1.5"/><circle class="b" cx="530" cy="565" r="5" style="fill:#555"/><circle class="k" cx="775" cy="628" r="12" style="stroke-width:1.5"/><circle class="b" cx="775" cy="628" r="5" style="fill:#555"/><path class="k" style="stroke-width:1.6" d="M772 695L815 690L830 705L818 725L780 722Z"/><circle class="k" cx="800" cy="708" r="10" style="stroke-width:2"/><circle class="b" cx="800" cy="708" r="4"/><path class="ff" style="stroke:#333" d="M88 256Q66 270 68 320Q68 372 90 390M88 256L152 250M90 390L190 398M150 250Q128 320 150 392"/><path class="ff" style="stroke:#333" d="M185 450L330 475L480 482M240 290Q225 370 242 458M300 305Q288 385 302 470M345 318Q335 395 348 476"/><path class="k" style="stroke-width:2.2" d="M184 292L186 448M212 298L214 452"/><path class="k" style="stroke-width:1.5" d="M180 300L218 306M182 440L218 446M190 330L215 335M195 455L225 462M250 300L290 308M255 318L292 324"/><path class="b" d="M352 392L384 400L386 470L355 464Z" style="fill:#333"/><path class="k" style="stroke-width:1.6" d="M190 440L205 462M270 462L285 470"/><path class="wf" style="stroke:#333;stroke-dasharray:9 1.6 3 1.6" d="M160 215Q152 240 152 270L250 286L330 310L395 342L430 300L330 250L250 226Z"/><path class="wf" style="stroke:#333" d="M262 135L335 152L300 228L225 205Z"/><ellipse class="f" style="stroke:#333" cx="300" cy="172" rx="30" ry="44" transform="rotate(20 300 172)"/><path class="f" style="stroke:#333" d="M228 205Q215 180 245 150"/><path class="k" style="stroke-width:1.6" d="M222 232L240 245M228 236L232 222"/><ellipse class="wf" style="stroke:#333" cx="368" cy="222" rx="32" ry="38"/><path class="k" style="stroke-width:1.3" d="M340 210Q368 195 396 212M340 235Q368 222 398 238"/><path class="b" d="M400 212L440 222L444 262L408 255Z" style="fill:#333"/><path class="k" style="stroke-width:1.8" d="M405 195L425 185L440 205M448 240L470 250L465 280M385 265L410 290"/><path class="ff" style="stroke:#333" d="M380 60Q378 110 340 150M432 70Q430 130 395 170"/><path class="k" style="stroke-width:1.1" d="M430.0 198.0L437.1 199.2L444.4 200.1L451.8 200.9L459.2 201.6L466.6 202.4L473.8 203.4L480.8 204.7L487.6 206.5L494.0 208.9L500.0 212.0L505.6 215.9L511.0 220.6L516.2 225.8L521.1 231.6L525.8 237.6L530.2 243.9L534.3 250.2L538.2 256.4L541.7 262.4L545.0 268.0L547.8 273.4L550.2 278.7L552.2 283.9L553.8 289.1L555.2 294.2L556.5 299.4L557.8 304.5L559.0 309.7L560.4 314.8L562.0 320.0"/><path class="k" style="stroke-width:1.1" d="M432.0 212.0L438.1 213.2L444.3 214.2L450.6 215.1L457.0 215.9L463.2 216.8L469.4 217.8L475.5 219.2L481.3 220.9L486.8 223.1L492.0 226.0L496.9 229.6L501.7 233.8L506.2 238.5L510.6 243.6L514.8 249.0L518.7 254.6L522.4 260.2L525.9 265.7L529.1 271.0L532.0 276.0L534.6 280.8L536.7 285.5L538.6 290.1L540.1 294.7L541.5 299.2L542.8 303.8L544.0 308.3L545.2 312.9L546.5 317.4L548.0 322.0"/><path class="f" style="stroke:#333" d="M395.0 342.0L400.6 346.9L406.5 351.6L412.5 356.1L418.6 360.7L424.6 365.2L430.4 370.0L435.9 374.9L441.1 380.2L445.8 385.9L450.0 392.0L453.4 398.8L456.1 406.3L458.1 414.3L459.8 422.7L461.3 431.2L462.8 439.8L464.4 448.1L466.3 456.0L468.8 463.4L472.0 470.0L475.9 475.9L480.2 481.2L484.9 486.2L490.0 490.7L495.2 495.0L500.7 499.1L506.1 503.2L511.6 507.3L516.9 511.5L522.0 516.0"/><path class="f" style="stroke:#333" d="M432.0 300.0L438.5 305.9L445.2 311.5L452.1 317.0L458.9 322.5L465.8 328.0L472.4 333.7L478.9 339.6L485.0 346.0L490.7 352.7L496.0 360.0L500.6 368.0L504.5 376.9L507.9 386.3L510.9 396.0L513.8 406.0L516.6 416.0L519.7 425.7L523.2 435.1L527.2 444.0L532.0 452.0L537.5 459.3L543.6 466.0L550.0 472.4L556.9 478.3L564.0 484.0L571.3 489.5L578.6 495.0L585.9 500.5L593.1 506.1L600.0 512.0"/><path class="k" style="stroke-width:1.8" d="M452 395L500 365M462 410L508 382"/><path class="w" style="stroke-width:1.3" d="M530 150L712 178L714 205L640 252L500 230L490 200Z"/><path class="f" style="stroke:#333" d="M536 162L700 188L636 240L506 222M640 252L640 292M714 205L716 282"/><path class="wf" style="stroke:#333;stroke-dasharray:9 1.6 3 1.6" d="M722 282L762 215L832 230L800 282L742 300Z"/><ellipse class="b" cx="790" cy="238" rx="7" ry="4"/><ellipse class="b" cx="770" cy="270" rx="7" ry="4"/><path class="k" style="stroke-width:1.8" d="M800 282L832 230L838 250"/><ellipse class="f" style="stroke:#333" cx="886" cy="262" rx="55" ry="25"/><ellipse class="f" cx="886" cy="258" rx="35" ry="14" style="stroke:#666"/><path class="ff" style="stroke:#333" d="M832 265L834 440M942 265L944 440M833 312Q886 345 943 312M833 348Q886 380 943 348M834 388Q886 420 944 388"/><path class="f" style="stroke:#333" d="M845 400L845 438M862 408L862 446M880 412L880 450M898 412L898 450M915 408L915 445M930 402L930 438M848 445Q886 480 930 448M852 462Q888 495 925 465"/><path class="b" d="M548 312L572 305L580 330L556 338Z"/><path class="k" style="stroke-width:1.6" d="M555 345L612 325L640 395L585 420Z"/><path class="k" style="stroke-width:2" d="M562 365L618 345M572 388L628 368M582 408L636 388"/><path class="b" d="M598 428L635 415L645 455L612 470Z"/><path class="k" style="stroke-width:1.8" d="M612 470L625 500M640 455L650 490"/><path class="k" style="stroke-width:1.5" d="M625 365L680 350L695 392L655 408"/><circle class="k" cx="657" cy="380" r="11" style="stroke-width:1.6"/><circle class="b" cx="657" cy="380" r="4"/><path class="f" style="stroke:#333" d="M690 345Q750 325 785 380Q800 440 765 485Q725 500 695 470"/><circle class="k" cx="740" cy="420" r="40" style="stroke-width:2.2;stroke-dasharray:3 3"/><circle class="f" style="stroke:#333" cx="740" cy="420" r="28"/><path class="b" d="M672 312L692 305L698 330L680 336Z"/><path class="b" d="M702 345L722 340L728 362L708 368Z"/><path class="b" d="M752 372L772 368L776 392L758 396Z"/><path class="k" style="stroke-width:1.8" d="M790 300L815 290L822 330M780 395L830 392L832 430M755 455L775 470M822 458L842 470"/><path class="f" style="stroke:#333" d="M600 520Q640 500 690 512L760 500L850 505Q900 520 925 545L915 570Q870 585 820 572L760 578L690 575L640 582"/><path class="f" style="stroke:#333" d="M690 512Q680 545 692 575M760 500Q750 540 762 578M850 505Q842 540 852 572"/><circle class="k" cx="665" cy="520" r="14" style="stroke-width:2"/><circle class="b" cx="665" cy="520" r="5"/><path class="b" d="M662 570L695 565L700 598L670 600Z"/><path class="k" style="stroke-width:2" d="M715 515Q728 530 718 552M738 518Q752 535 742 556M795 520L805 555M812 518L822 552"/><path class="k" style="stroke-width:1.4" d="M905 500Q920 520 940 500M895 520L935 505"/><path class="wf" style="stroke:#333" d="M398 492Q415 470 435 490L442 552L405 545Z"/><circle class="k" cx="416" cy="492" r="10" style="stroke-width:1.6"/><path class="k" style="stroke-width:1.3" d="M442 552L492 498M455 478L480 485"/><path class="b" d="M378 508L395 505L398 525L382 528Z"/><path class="b" d="M462 478L478 476L480 492L466 494Z"/><path class="f" style="stroke:#555" d="M625.0 500.0L628.9 507.0L632.8 514.0L636.5 521.0L640.3 528.0L644.1 535.0L647.9 542.0L651.9 549.0L656.0 556.0L660.4 563.0L665.0 570.0L669.9 577.0L675.0 584.2L680.2 591.3L685.7 598.5L691.2 605.6L696.9 612.7L702.7 619.7L708.4 626.6L714.2 633.4L720.0 640.0L725.8 646.4L731.7 652.6L737.6 658.7L743.6 664.7L749.7 670.6L755.8 676.5L761.8 682.3L767.9 688.2L774.0 694.0L780.0 700.0"/></g>
<g transform="matrix(1.087,0,0,1.087,-5.9,663.3)"><g transform="translate(820,300) scale(.13624)"><path class="w" style="stroke-width:1.1" d="M648 195L650 280Q740 340 832 280L832 195Z"/><ellipse class="w" cx="740" cy="195" rx="92" ry="45" style="stroke-width:1.1"/><path class="ff" style="stroke:#2a2a2a" d="M640 285Q740 355 842 290"/><path class="ff" style="stroke:#2a2a2a" d="M125.0 760.0L125.4 753.0L125.6 746.0L125.7 739.0L125.8 732.0L125.9 725.0L126.2 718.0L126.7 711.0L127.4 704.0L128.5 697.0L130.0 690.0L131.8 682.9L133.8 675.7L136.1 668.4L138.5 661.1L141.2 653.9L144.3 646.7L147.6 639.7L151.4 632.8L155.5 626.3L160.0 620.0L165.1 614.1L170.8 608.4L176.9 603.1L183.5 597.9L190.3 592.9L197.3 587.9L204.4 583.0L211.4 578.1L218.3 573.1L225.0 568.0"/><path class="ff" style="stroke:#2a2a2a" d="M225 568L640 272M835 295L900 300Q950 330 963 400L960 520L948 800L944 940Q925 1005 880 1040L500 1340L440 1362L362 1382L300 1342L200 1292L140 1262Q118 1230 120 1195L126 1100L140 880L125 760"/><path class="ff" style="stroke:#2a2a2a" d="M158.0 752.0L158.6 745.8L159.0 739.5L159.2 733.3L159.5 727.0L159.8 720.8L160.2 714.5L160.8 708.3L161.8 702.1L163.2 696.0L165.0 690.0L167.3 684.0L169.8 677.9L172.7 671.7L175.9 665.6L179.3 659.6L183.0 653.7L186.9 648.0L191.1 642.4L195.4 637.1L200.0 632.0L204.9 627.3L210.1 622.8L215.7 618.7L221.5 614.7L227.6 610.9L233.7 607.1L239.9 603.4L246.0 599.7L252.1 595.9L258.0 592.0"/><path class="ff" style="stroke:#2a2a2a" d="M240.0 566.0L255.2 570.0L271.0 573.9L287.2 577.7L303.4 581.6L319.5 585.4L335.1 589.4L350.1 593.3L364.0 597.4L376.8 601.6L388.0 606.0L398.1 610.5L407.4 615.0L416.0 619.7L423.8 624.4L430.6 629.2L436.4 634.2L441.1 639.2L444.6 644.4L447.0 649.6L448.0 655.0L447.3 660.5L444.6 666.2L440.3 672.0L434.8 678.0L428.4 684.0L421.4 690.1L414.2 696.3L407.2 702.5L400.7 708.7L395.0 715.0L389.8 721.4L384.4 727.9L378.9 734.5L373.5 741.3L368.1 748.0L362.9 754.7L357.9 761.3L353.2 767.8L348.9 774.0L345.0 780.0L341.6 785.7L338.7 791.2L336.1 796.6L333.9 801.7L331.8 806.8L329.9 811.8L328.0 816.8L326.2 821.8L324.2 826.9L322.0 832.0"/><path class="ff" style="stroke:#2a2a2a" d="M420.0 700.0L415.7 707.0L411.2 714.1L406.6 721.3L402.0 728.4L397.4 735.5L392.9 742.6L388.7 749.6L384.7 756.5L381.1 763.3L378.0 770.0L375.3 776.5L373.1 782.9L371.3 789.2L369.7 795.4L368.4 801.5L367.2 807.6L366.0 813.7L364.8 819.7L363.5 825.8L362.0 832.0"/><path class="ff" style="stroke:#2a2a2a" d="M125 790L310 826L392 810L602 690"/><path class="k" style="stroke-width:1.6" d="M128 852L200 880L350 925L410 905L592 790"/><path class="ff" style="stroke:#2a2a2a" d="M390 606L640 440M448 655L625 532M440 702L618 582M250 545L480 380"/><path class="k" style="stroke-width:1.2" d="M630 445L620 600L590 800L556 1060L520 1092L492 1335M800 350L820 480L850 700L870 900L890 1040"/><path class="k" style="stroke-width:1.3" d="M630 445L800 350M492 372L630 445M560 330L640 290"/><path class="k" style="stroke-width:2.4" d="M522 1085L870 852"/><path class="k" d="M556 1050L860 845"/><circle class="k" cx="785" cy="620" r="28" style="stroke-width:2.2"/><circle class="b" cx="785" cy="620" r="14" style="fill:#444"/><circle class="k" cx="695" cy="690" r="27" style="stroke-width:2.2"/><circle class="b" cx="695" cy="690" r="13" style="fill:#444"/><circle class="k" cx="835" cy="830" r="30" style="stroke-width:2.2"/><circle class="b" cx="835" cy="830" r="15" style="fill:#444"/><circle class="k" cx="650" cy="955" r="30" style="stroke-width:2.2"/><circle class="b" cx="650" cy="955" r="15" style="fill:#444"/><circle class="b" cx="946" cy="780" r="14" style="fill:#444"/><path class="f" d="M870 822L938 788M875 838L945 800"/><path class="ff" style="stroke:#2a2a2a" d="M815 400L880 330Q930 340 945 420M830 420L890 352Q925 362 935 430"/><path class="k" style="stroke-width:1.5" d="M845 592L957 522"/><path class="ff" style="stroke:#2a2a2a" d="M870 900L880 1040M950 800L905 1010"/><path class="ff" style="stroke:#2a2a2a" d="M130 1100L310 1165L392 1175L520 1092M125 1132L310 1192L396 1186M300 832L300 1170L305 1335M352 926L356 1172M140 880L140 1100M305 1335L400 1310M520 1310L870 1045"/><path class="k" style="stroke-width:1.3" d="M120 1105Q135 1095 150 1135M300 1165L315 1185M385 1172L398 1190"/><ellipse class="ff" style="stroke:#2a2a2a" cx="450" cy="1265" rx="40" ry="66"/><path class="k" style="stroke-width:1.4" d="M492 1335L470 1352L440 1345M345 1380L375 1395M500 1180L492 1335"/><path class="k" style="stroke-width:2.4" d="M352 560L376 458L432 432M352 560L385 548M432 432L440 525L395 548"/><path class="k" d="M385 470L430 455L436 522L392 540Z"/><circle class="l" cx="410" cy="495" r="6"/><path class="k" style="stroke-width:2.2" d="M486 462L502 385L562 432L520 460L486 462M502 385L522 352"/><path class="k" style="stroke-width:3.5;stroke:#555" d="M522 352L602 312"/><path class="k" style="stroke-width:2.2" d="M165 1270L255 1300L262 1340L225 1355L175 1335ZM190 1340L185 1400M225 1355L222 1410M150 1410L235 1395M160 1380L175 1420"/><path class="b" d="M195 1290L245 1305L245 1340L200 1330Z"/></g></g>
<g transform="translate(740,890) scale(0.19982)"><path class="k" style="stroke-width:1.4" d="M330 78Q345 62 372 62L420 70Q450 85 460 135"/><circle class="l" cx="385" cy="118" r="14"/><path class="lf" d="M328 82L328 375"/><path class="k" d="M328 340L345 385"/><path class="k" style="stroke-width:1.6" d="M455 215Q455 235 475 242L830 336Q848 338 855 325"/><path class="k" style="stroke-width:1.5" d="M855 268Q870 250 900 255L942 262Q962 272 955 298"/><ellipse class="k" cx="898" cy="306" rx="29" ry="31" style="stroke-width:2.6"/><ellipse class="l" cx="905" cy="300" rx="18" ry="20"/><path class="f" style="stroke:#333" d="M948 300L952 555Q950 572 930 570L880 562L860 540"/><circle class="l" cx="910" cy="522" r="15"/><path class="f" d="M372 345Q385 335 398 345L395 380"/><path class="w" style="stroke-width:1.2" d="M222 488L432 333L522 352L530 440L322 545L312 515L248 502L240 522L218 512Z"/><path class="k" d="M312 515L522 352M222 488L300 500"/><ellipse class="b" cx="440" cy="371" rx="14" ry="7" style="fill:#555"/><ellipse class="b" cx="300" cy="470" rx="15" ry="8" style="fill:#555"/><path class="w" style="stroke-width:1.2" d="M555 580L765 425L855 440L862 530L655 632L645 602L580 592L575 612L550 603Z"/><path class="k" d="M645 602L855 440M555 580L632 590"/><ellipse class="b" cx="772" cy="458" rx="14" ry="7" style="fill:#555"/><ellipse class="b" cx="630" cy="558" rx="15" ry="8" style="fill:#555"/><path class="lf" d="M530 440L668 476"/><path class="k" style="stroke-width:1.6" d="M255 325Q268 315 280 325L280 360L255 360Z"/><path class="k" style="stroke-width:2" d="M242 365L295 362L288 385L250 388ZM258 388L262 398M278 386L282 396"/><circle class="k" cx="855" cy="625" r="27" style="stroke-width:1.5"/><circle class="k" cx="855" cy="625" r="15"/><path class="f" d="M832 610L850 598L878 608"/><path class="k" style="stroke-width:1.5" d="M668 700L690 682L715 690L722 722L700 745L672 735Z"/><path class="k" d="M715 690L748 668Q765 675 760 700L722 722M690 682L695 715L722 722M695 715L672 735"/></g>
<g transform="translate(734,880) scale(0.33333)"><path class="f" style="stroke:#222" d="M905 652L935 655L935 668L905 665Z"/><circle class="k" cx="944" cy="662" r="8" style="stroke-width:1.8"/><path class="f" style="stroke:#222" d="M920 728L945 735"/><circle class="k" cx="955" cy="740" r="8" style="stroke-width:1.6"/><ellipse class="k" cx="563" cy="1005" rx="17" ry="9" style="stroke-width:1.4"/><path class="f" d="M545 1005L555 1012"/><path class="f" style="stroke:#222" d="M723.0 1088.1L723.1 1094.4L723.1 1100.9L723.1 1107.5L723.1 1114.1L723.1 1120.7L723.2 1127.2L723.3 1133.5L723.4 1139.6L723.7 1145.3L724.0 1150.6L724.6 1155.6L725.4 1160.2L726.4 1164.4L727.5 1168.1L728.5 1171.5L729.4 1174.6L730.2 1177.3L730.7 1179.9L731.0 1182.3L731.0 1184.8L730.8 1187.7L730.6 1190.5L730.2 1193.1L729.7 1195.6L729.1 1198.0L728.3 1200.4L727.3 1202.8L726.0 1205.3L724.3 1208.0L722.4 1210.8L720.0 1213.8L717.4 1216.9L714.4 1220.0L711.1 1223.2L707.6 1226.6L703.7 1230.0L699.6 1233.4L695.2 1237.0L690.6 1240.7L685.8 1244.4L680.6 1248.3L675.1 1252.2L669.2 1256.3L663.0 1260.5L656.6 1264.7L650.1 1269.0L643.5 1273.3L636.9 1277.6L630.4 1281.9L624.1 1286.2"/><path class="f" style="stroke:#222" d="M737.0 1087.9L737.1 1094.3L737.1 1100.8L737.1 1107.4L737.1 1114.1L737.1 1120.7L737.2 1127.1L737.3 1133.2L737.4 1139.1L737.6 1144.5L738.0 1149.4L738.5 1153.6L739.1 1157.4L740.0 1160.9L740.9 1164.2L741.9 1167.5L742.9 1170.7L743.8 1174.1L744.5 1177.6L744.9 1181.4L745.0 1185.2L744.8 1188.7L744.5 1192.0L744.0 1195.3L743.4 1198.7L742.5 1202.0L741.4 1205.4L739.9 1208.8L738.2 1212.2L736.1 1215.6L733.6 1219.2L730.8 1222.7L727.8 1226.3L724.4 1229.8L720.8 1233.4L716.9 1236.9L712.8 1240.6L708.5 1244.2L704.0 1247.9L699.2 1251.7L694.2 1255.6L688.9 1259.6L683.2 1263.7L677.1 1267.9L670.8 1272.1L664.4 1276.4L657.8 1280.7L651.2 1285.0L644.6 1289.3L638.2 1293.6L631.9 1297.8"/><path class="f" style="stroke:#222" d="M723.0 1088.1L737.0 1087.9"/><ellipse class="k" cx="628" cy="1293" rx="6" ry="8" style="stroke-width:1.8"/><path class="k" d="M722 1088Q730 1080 738 1088" style="stroke-width:1.8"/><path class="k" style="stroke-width:1.8" d="M515 1252L535 1258L540 1272L525 1275M520 1262L545 1268"/><path class="k" style="stroke-width:1.8" d="M578 1230L600 1225L605 1245L620 1248M580 1245L612 1240M585 1258Q575 1270 588 1276Q600 1270 592 1258"/><path class="k" style="stroke-width:1.8" d="M606 1302L618 1298M586 1320L596 1326"/><path class="k" style="stroke-width:4.2;stroke:#333" d="M618.0 1442.0L622.8 1439.3L627.6 1436.6L632.5 1433.8L637.4 1431.1L642.2 1428.4L647.1 1425.7L651.8 1423.0L656.4 1420.3L660.8 1417.6L665.0 1415.0L669.0 1412.5L673.0 1410.0L676.8 1407.7L680.5 1405.3L684.1 1403.0L687.5 1400.6L690.8 1398.2L694.0 1395.6L697.1 1392.9L700.0 1390.0L702.8 1386.9L705.6 1383.8L708.3 1380.5L710.9 1377.1L713.3 1373.6L715.6 1370.1L717.6 1366.4L719.3 1362.7L720.8 1358.9L722.0 1355.0L722.8 1351.0L723.1 1346.9L723.2 1342.7L722.9 1338.4L722.5 1334.0L722.0 1329.6L721.4 1325.2L720.8 1320.7L720.3 1316.3L720.0 1312.0"/><path class="k" style="stroke-width:1.2;stroke:#ddd;stroke-dasharray:1.5 2" d="M618.0 1442.0L622.8 1439.3L627.6 1436.6L632.5 1433.8L637.4 1431.1L642.2 1428.4L647.1 1425.7L651.8 1423.0L656.4 1420.3L660.8 1417.6L665.0 1415.0L669.0 1412.5L673.0 1410.0L676.8 1407.7L680.5 1405.3L684.1 1403.0L687.5 1400.6L690.8 1398.2L694.0 1395.6L697.1 1392.9L700.0 1390.0L702.8 1386.9L705.6 1383.8L708.3 1380.5L710.9 1377.1L713.3 1373.6L715.6 1370.1L717.6 1366.4L719.3 1362.7L720.8 1358.9L722.0 1355.0L722.8 1351.0L723.1 1346.9L723.2 1342.7L722.9 1338.4L722.5 1334.0L722.0 1329.6L721.4 1325.2L720.8 1320.7L720.3 1316.3L720.0 1312.0"/><path class="k" style="stroke-width:1.8" d="M342 1402L355 1400L358 1418L345 1420ZM358 1406L384 1412L384 1420L358 1414"/><path class="k" style="stroke-width:1.7" d="M408 1425L420 1422L424 1455L412 1462M410 1440L400 1460Q398 1472 410 1470L415 1462"/><path class="k" style="stroke-width:1.8" d="M448 1436L470 1426L474 1434L452 1446Z"/></g>
<g transform="translate(667,1250) scale(0.33333)"><path class="k" style="stroke-width:.9;stroke:#333" d="M314.5 187.0L317.2 191.6L319.7 196.0L322.2 200.4L324.7 204.8L327.2 209.2L329.8 213.7L332.5 218.4L335.3 223.3L338.3 228.5L341.5 234.0L345.0 239.9L348.6 246.1L352.4 252.6L356.3 259.2L360.3 266.1L364.4 273.1L368.6 280.2L372.9 287.5L377.2 294.7L381.6 302.0L386.0 309.5L390.5 317.4L395.1 325.5L399.8 333.8L404.5 342.1L409.4 350.4L414.2 358.4L419.1 366.2L423.9 373.6L428.8 380.4L433.6 386.7L438.3 392.8L443.0 398.6L447.8 404.1L452.6 409.4L457.4 414.3L462.4 419.0L467.4 423.4L472.5 427.5L477.7 431.3L483.1 434.8L488.6 438.1L494.2 441.1L499.8 443.9L505.6 446.3L511.5 448.4L517.3 450.0L523.3 451.2L529.2 451.9L535.1 452.0L540.8 451.6L546.3 450.7L551.6 449.4L556.8 447.5L562.0 445.3L567.3 442.7L572.9 439.7L578.8 436.3L585.1 432.6L592.1 428.4L599.7 423.7L607.8 418.4L616.4 412.5L625.3 406.3L634.5 399.7L643.9 392.9L653.5 385.9L663.1 378.9L672.8 372.0L682.3 365.3L691.9 358.6L701.7 351.7L711.6 344.8L721.6 337.8L731.7 330.7L741.8 323.6L752.0 316.5L762.1 309.4L772.2 302.3L782.3 295.3"/><path class="k" style="stroke-width:.9;stroke:#333" d="M321.5 183.0L324.1 187.6L326.7 192.1L329.2 196.5L331.6 200.8L334.2 205.2L336.7 209.7L339.4 214.4L342.2 219.3L345.2 224.4L348.5 230.0L351.9 235.9L355.5 242.1L359.3 248.5L363.2 255.2L367.2 262.0L371.3 269.0L375.5 276.2L379.8 283.4L384.1 290.7L388.4 298.0L392.9 305.5L397.4 313.4L402.0 321.6L406.7 329.8L411.5 338.1L416.2 346.3L421.0 354.3L425.8 361.9L430.5 369.0L435.2 375.6L439.9 381.8L444.5 387.8L449.2 393.4L453.8 398.8L458.4 403.9L463.1 408.7L467.8 413.1L472.5 417.3L477.3 421.2L482.3 424.7L487.3 428.0L492.5 431.1L497.8 434.0L503.1 436.6L508.5 438.8L513.9 440.7L519.2 442.2L524.5 443.3L529.7 443.9L534.9 444.0L539.9 443.6L544.6 442.9L549.2 441.7L553.9 440.1L558.6 438.1L563.6 435.6L569.0 432.7L574.7 429.4L581.0 425.7L587.9 421.6L595.4 417.0L603.4 411.7L611.8 406.0L620.7 399.8L629.9 393.2L639.3 386.4L648.8 379.4L658.5 372.4L668.1 365.5L677.7 358.7L687.3 352.0L697.1 345.2L707.0 338.2L717.0 331.2L727.1 324.2L737.2 317.1L747.4 309.9L757.5 302.8L767.7 295.8L777.7 288.7"/><path class="k" style="stroke-width:1.6" d="M312 178L320 172L328 185L320 195Z"/><path class="k" style="stroke-width:3.6;stroke:#444" d="M382.0 348.0L384.2 352.6L386.3 357.2L388.4 361.7L390.4 366.2L392.4 370.7L394.6 375.3L396.9 379.9L399.3 384.8L402.0 389.8L405.0 395.0L408.3 400.6L411.8 406.5L415.4 412.8L419.3 419.2L423.3 425.6L427.5 432.0L431.7 438.3L436.1 444.3L440.5 449.9L445.0 455.0L449.6 459.8L454.4 464.4L459.3 468.8L464.3 473.0L469.4 476.9L474.5 480.6L479.7 484.0L484.8 487.0L490.0 489.7L495.0 492.0L500.0 493.9L504.9 495.6L509.8 496.9L514.8 497.8L519.7 498.5L524.6 498.8L529.6 498.9L534.7 498.6L539.8 497.9L545.0 497.0L550.3 495.7L555.7 493.9L561.1 491.7L566.6 489.2L572.2 486.4L577.8 483.4L583.3 480.2L588.9 476.9L594.5 473.5L600.0 470.0L605.5 466.4L611.0 462.6L616.5 458.5L622.0 454.3L627.5 449.9L633.0 445.5L638.5 441.1L644.0 436.6L649.5 432.3L655.0 428.0"/><path class="k" style="stroke-width:1.2;stroke:#eee;stroke-dasharray:1.5 2.2" d="M382.0 348.0L384.2 352.6L386.3 357.2L388.4 361.7L390.4 366.2L392.4 370.7L394.6 375.3L396.9 379.9L399.3 384.8L402.0 389.8L405.0 395.0L408.3 400.6L411.8 406.5L415.4 412.8L419.3 419.2L423.3 425.6L427.5 432.0L431.7 438.3L436.1 444.3L440.5 449.9L445.0 455.0L449.6 459.8L454.4 464.4L459.3 468.8L464.3 473.0L469.4 476.9L474.5 480.6L479.7 484.0L484.8 487.0L490.0 489.7L495.0 492.0L500.0 493.9L504.9 495.6L509.8 496.9L514.8 497.8L519.7 498.5L524.6 498.8L529.6 498.9L534.7 498.6L539.8 497.9L545.0 497.0L550.3 495.7L555.7 493.9L561.1 491.7L566.6 489.2L572.2 486.4L577.8 483.4L583.3 480.2L588.9 476.9L594.5 473.5L600.0 470.0L605.5 466.4L611.0 462.6L616.5 458.5L622.0 454.3L627.5 449.9L633.0 445.5L638.5 441.1L644.0 436.6L649.5 432.3L655.0 428.0"/></g>
<rect class="b" x="740.5" y="1024" width="3.5" height="8"/>
</g>
<g id="leaders">
<g transform="translate(0,600) scale(.33333)" class="ld">
<path class="lf" d="M485 128L598 150"/><path class="lf" d="M772 150L868 140"/><path class="lf" d="M397 240L480 258"/><path class="lf" d="M790 240L863 232"/>
<path d="M205 270L262 300"/><path d="M575 250L625 300"/><path d="M245 375L300 382"/><path class="lf" d="M820 372L908 360"/>
<path d="M595 452L695 495"/><path d="M150 510L185 468"/><path class="lf" d="M400 460L400 535"/><path class="lf" d="M578 520L590 570"/>
<path class="lf" d="M195 678L243 678"/><path d="M262 803L310 803"/><path d="M735 1125L700 1175"/><path d="M925 1160L930 1220"/>
<path d="M1000 1150L970 1200"/><path d="M855 1225L865 1265"/>
</g>
<g transform="translate(300,960) scale(.33333)" class="ld">
<path d="M365 50L305 112"/><path d="M200 62L185 90"/><path class="lf" d="M870 210L858 265"/><path d="M515 270L560 295"/>
<path d="M485 345L520 375"/><path d="M315 340L285 305"/><path d="M605 385L585 350"/><path d="M990 385L950 380"/>
<path d="M835 455L875 470"/><path class="lf" d="M650 870L710 868"/><path d="M845 1020L870 985"/>
<path d="M635 1058L715 1005"/><path class="lf" d="M635 1061L745 1030"/><path d="M825 1150L865 1130"/><path d="M795 1265L835 1240"/><path d="M1003 1265L1055 1300"/>
</g>
<g transform="translate(734,880) scale(.33333)" class="ld">
<path d="M335 85L295 120"/><path d="M115 210L170 235"/><path class="lf" d="M555 398L612 385"/><path d="M880 410L860 460"/>
<path class="lf" d="M490 463L515 465"/><path d="M965 625L920 650"/><path class="lf" d="M975 710L935 730"/><path d="M580 1005L612 1015"/>
<path class="lf" d="M745 1170L798 1190"/><path class="lf" d="M505 1215L525 1250"/><path d="M620 1300L640 1315"/><path d="M590 1322L612 1350"/>
<path d="M385 1385L365 1400"/><path d="M445 1400L415 1420"/><path d="M490 1415L465 1430"/>
<path class="lf" d="M815 615L905 652"/><path class="lf" d="M885 715L925 733"/>
</g>
<g transform="translate(667,1250) scale(.33333)" class="ld">
<path d="M650 395L700 445"/><path d="M615 455L650 495"/>
</g>
<g transform="translate(440,1250) scale(.33333)" class="ld">
<path d="M625 222L668 245"/><path d="M740 160L672 225"/><path d="M610 262L655 290"/>
</g>
<g transform="translate(560,1000) scale(.21798)" class="ld">
<path d="M730 210L660 175"/><path d="M620 290L565 250"/><path d="M545 340L495 312"/><path d="M695 688L590 745"/>
</g>
</g>
<g id="labels" class="n">
<text x="137.7" y="650.0">81</text>
<text x="290.7" y="650.0">16</text>
<text x="108.7" y="684.3">60</text>
<text x="289.3" y="681.0">81</text>
<text x="48.3" y="692.3">71</text>
<text x="210.7" y="707.3">40</text>
<text x="63.3" y="725.0">27</text>
<text x="305.0" y="727.3">17</text>
<text x="233.3" y="774.3">75</text>
<text x="39.3" y="782.7">81</text>
<text x="125.0" y="794.3">78</text>
<text x="191.0" y="805.7">28</text>
<text x="82.7" y="833.3">38</text>
<text x="105.0" y="876.0">30</text>
<text x="237.3" y="973.3">30</text>
<text x="301.7" y="984.0">58</text>
<text x="326.7" y="981.0">78</text>
<text x="275.0" y="1006.0">73</text>
<text x="420.0" y="976.0">65</text>
<text x="366.6" y="965.0">30</text>
<text x="579.3" y="1027.5">81</text>
<text x="450.0" y="1052.7">58</text>
<text x="441.7" y="1075.0">73</text>
<text x="404.0" y="1086.0">81</text>
<text x="502.7" y="1097.7">78</text>
<text x="631.7" y="1094.0">26</text>
<text x="565.0" y="1109.0">29</text>
<text x="497.3" y="1260.0">31</text>
<text x="485.0" y="1285.0">36</text>
<text x="570.7" y="1315.0">35</text>
<text x="488.3" y="1326.0">77</text>
<text x="554.0" y="1355.0">15</text>
<text x="544.0" y="1389.3">74</text>
<text x="652.7" y="1403.3">25</text>
<text x="846.7" y="911.7">3</text>
<text x="750.0" y="953.3">75</text>
<text x="940.0" y="1011.7">55</text>
<text x="1024.0" y="1013.3">5</text>
<text x="906.7" y="1042.7">50</text>
<text x="1042.3" y="1084.3">70</text>
<text x="1054.7" y="1113.3">75</text>
<text x="939.7" y="1224.3">80</text>
<text x="1000.7" y="1282.3">42</text>
<text x="890.0" y="1282.7">80</text>
<text x="947.3" y="1325.0">34</text>
<text x="937.8" y="1342.5">59</text>
<text x="850.0" y="1338.3">73</text>
<text x="874.0" y="1344.0">62</text>
<text x="898.3" y="1352.7">20</text>
<text x="901.3" y="1405.0">7</text>
<text x="882.0" y="1424.0">32</text>
<text x="662.7" y="1339.3">78</text>
<text x="660.0" y="1360.0">61</text>
<text x="720.2" y="1048.4">4</text>
<text x="696.2" y="1069.3">81</text>
<text x="676.6" y="1087.2">52</text>
<text x="712.6" y="1151.5">1</text>
</g>
</g>
</svg>
</body></html>
